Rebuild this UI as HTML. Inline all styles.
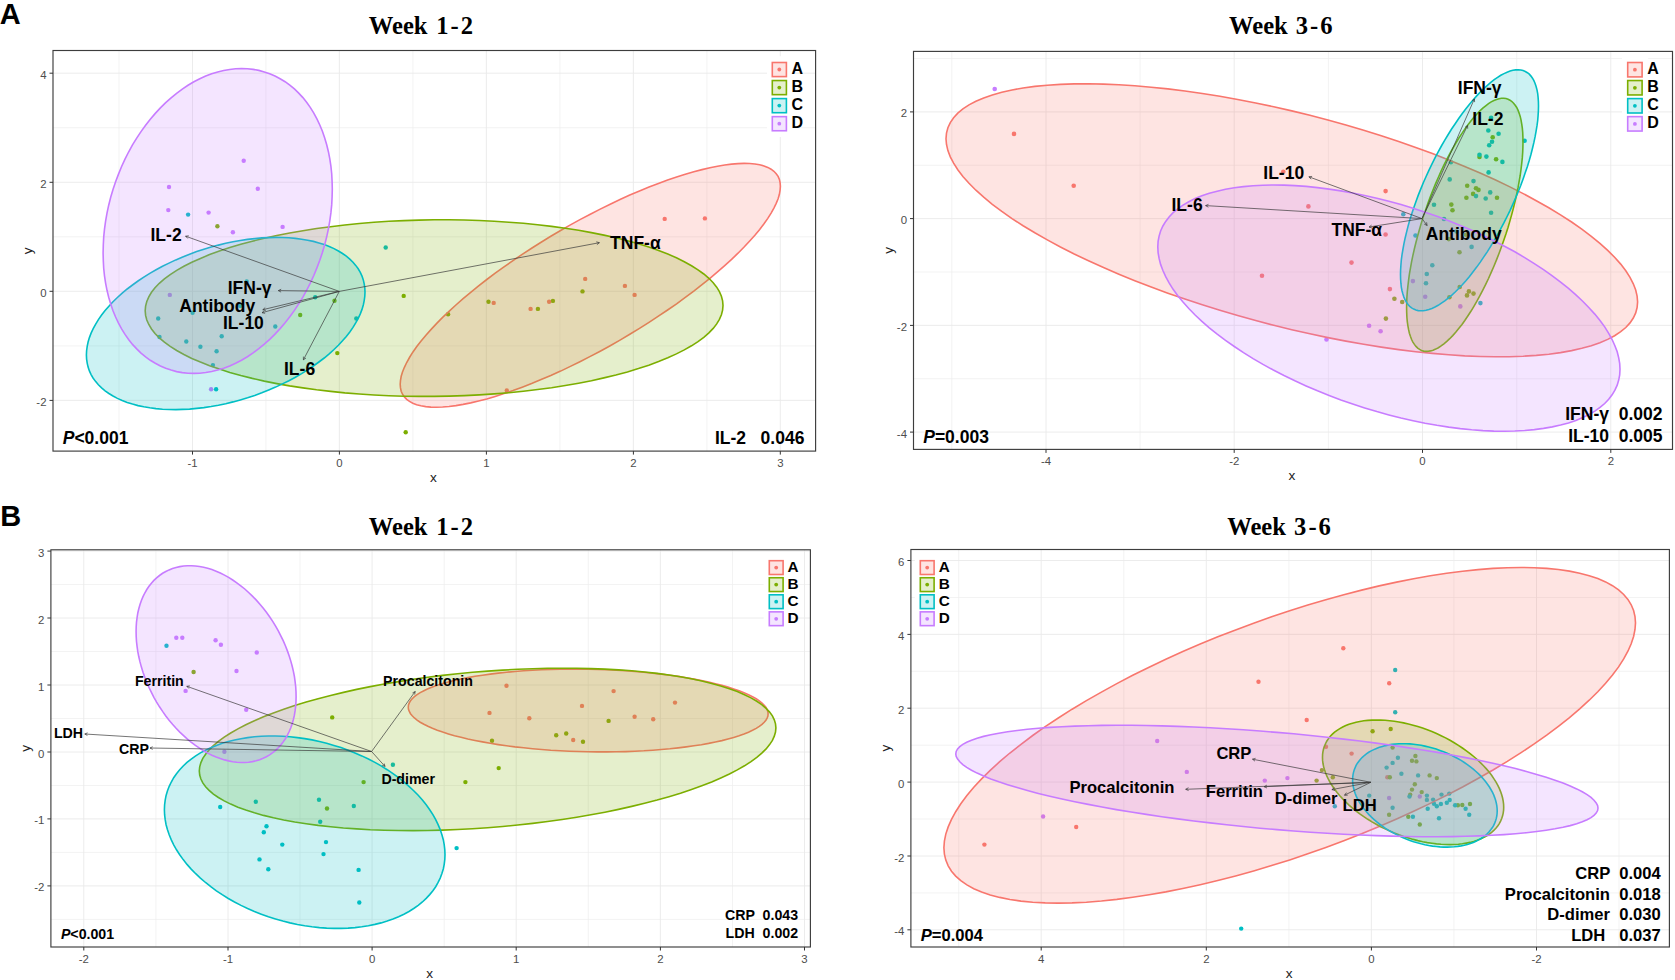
<!DOCTYPE html>
<html><head><meta charset="utf-8"><title>Figure</title>
<style>html,body{margin:0;padding:0;background:#fff}svg{display:block}</style></head>
<body>
<svg width="1675" height="980" viewBox="0 0 1675 980">
<rect width="1675" height="980" fill="#fff"/>
<text x="-0.3" y="24.0" font-family='"Liberation Sans", sans-serif' font-size="29" font-weight="bold" text-anchor="start" fill="#000" >A</text>
<text x="0.3" y="525.8" font-family='"Liberation Sans", sans-serif' font-size="29" font-weight="bold" text-anchor="start" fill="#000" >B</text>
<text y="34.0" font-family='"Liberation Serif", serif' font-size="24.6" font-weight="bold"><tspan x="368.8">Week</tspan> <tspan x="475.0" text-anchor="end" letter-spacing="2.0">1-2</tspan></text>
<text y="34.4" font-family='"Liberation Serif", serif' font-size="24.6" font-weight="bold"><tspan x="1229.0">Week</tspan> <tspan x="1334.6" text-anchor="end" letter-spacing="2.0">3-6</tspan></text>
<text y="534.8" font-family='"Liberation Serif", serif' font-size="24.6" font-weight="bold"><tspan x="368.8">Week</tspan> <tspan x="475.0" text-anchor="end" letter-spacing="2.0">1-2</tspan></text>
<text y="535.0" font-family='"Liberation Serif", serif' font-size="24.6" font-weight="bold"><tspan x="1227.2">Week</tspan> <tspan x="1332.9" text-anchor="end" letter-spacing="2.0">3-6</tspan></text>
<rect x="53.0" y="50.5" width="762.6" height="400.6" fill="#fff"/>
<line x1="119.0" y1="50.5" x2="119.0" y2="451.1" stroke="#eeeeee" stroke-width="0.7"/>
<line x1="265.9" y1="50.5" x2="265.9" y2="451.1" stroke="#eeeeee" stroke-width="0.7"/>
<line x1="412.9" y1="50.5" x2="412.9" y2="451.1" stroke="#eeeeee" stroke-width="0.7"/>
<line x1="559.9" y1="50.5" x2="559.9" y2="451.1" stroke="#eeeeee" stroke-width="0.7"/>
<line x1="706.9" y1="50.5" x2="706.9" y2="451.1" stroke="#eeeeee" stroke-width="0.7"/>
<line x1="53.0" y1="345.9" x2="815.6" y2="345.9" stroke="#eeeeee" stroke-width="0.7"/>
<line x1="53.0" y1="236.8" x2="815.6" y2="236.8" stroke="#eeeeee" stroke-width="0.7"/>
<line x1="53.0" y1="127.7" x2="815.6" y2="127.7" stroke="#eeeeee" stroke-width="0.7"/>
<line x1="192.5" y1="50.5" x2="192.5" y2="451.1" stroke="#eaeaea" stroke-width="0.9"/>
<line x1="339.4" y1="50.5" x2="339.4" y2="451.1" stroke="#eaeaea" stroke-width="0.9"/>
<line x1="486.4" y1="50.5" x2="486.4" y2="451.1" stroke="#eaeaea" stroke-width="0.9"/>
<line x1="633.4" y1="50.5" x2="633.4" y2="451.1" stroke="#eaeaea" stroke-width="0.9"/>
<line x1="780.3" y1="50.5" x2="780.3" y2="451.1" stroke="#eaeaea" stroke-width="0.9"/>
<line x1="53.0" y1="400.4" x2="815.6" y2="400.4" stroke="#eaeaea" stroke-width="0.9"/>
<line x1="53.0" y1="291.3" x2="815.6" y2="291.3" stroke="#eaeaea" stroke-width="0.9"/>
<line x1="53.0" y1="182.3" x2="815.6" y2="182.3" stroke="#eaeaea" stroke-width="0.9"/>
<line x1="53.0" y1="73.2" x2="815.6" y2="73.2" stroke="#eaeaea" stroke-width="0.9"/>
<circle cx="243.7" cy="160.7" r="2.2" fill="#C77CFF"/>
<circle cx="169.0" cy="187.0" r="2.2" fill="#C77CFF"/>
<circle cx="257.8" cy="188.8" r="2.2" fill="#C77CFF"/>
<circle cx="168.3" cy="210.1" r="2.2" fill="#C77CFF"/>
<circle cx="208.6" cy="212.6" r="2.2" fill="#C77CFF"/>
<circle cx="282.6" cy="226.9" r="2.2" fill="#C77CFF"/>
<circle cx="232.9" cy="232.2" r="2.2" fill="#C77CFF"/>
<circle cx="169.8" cy="294.9" r="2.2" fill="#C77CFF"/>
<circle cx="211.1" cy="389.2" r="2.2" fill="#C77CFF"/>
<circle cx="188.1" cy="214.6" r="2.2" fill="#00BFC4"/>
<circle cx="385.7" cy="247.5" r="2.2" fill="#00BFC4"/>
<circle cx="246.7" cy="281.4" r="2.2" fill="#00BFC4"/>
<circle cx="315.2" cy="297.2" r="2.2" fill="#00BFC4"/>
<circle cx="240.2" cy="305.9" r="2.2" fill="#00BFC4"/>
<circle cx="192.6" cy="312.7" r="2.2" fill="#00BFC4"/>
<circle cx="158.2" cy="318.5" r="2.2" fill="#00BFC4"/>
<circle cx="275.3" cy="326.5" r="2.2" fill="#00BFC4"/>
<circle cx="356.3" cy="318.5" r="2.2" fill="#00BFC4"/>
<circle cx="221.7" cy="336.3" r="2.2" fill="#00BFC4"/>
<circle cx="159.5" cy="337.0" r="2.2" fill="#00BFC4"/>
<circle cx="186.3" cy="341.5" r="2.2" fill="#00BFC4"/>
<circle cx="200.4" cy="346.8" r="2.2" fill="#00BFC4"/>
<circle cx="216.6" cy="351.3" r="2.2" fill="#00BFC4"/>
<circle cx="212.9" cy="365.1" r="2.2" fill="#00BFC4"/>
<circle cx="216.1" cy="389.2" r="2.2" fill="#00BFC4"/>
<circle cx="217.4" cy="226.2" r="2.2" fill="#7CAE00"/>
<circle cx="403.7" cy="295.9" r="2.2" fill="#7CAE00"/>
<circle cx="334.5" cy="300.7" r="2.2" fill="#7CAE00"/>
<circle cx="300.2" cy="315.0" r="2.2" fill="#7CAE00"/>
<circle cx="337.3" cy="353.1" r="2.2" fill="#7CAE00"/>
<circle cx="405.7" cy="432.3" r="2.2" fill="#7CAE00"/>
<circle cx="448.1" cy="314.2" r="2.2" fill="#7CAE00"/>
<circle cx="488.5" cy="301.7" r="2.2" fill="#7CAE00"/>
<circle cx="537.9" cy="308.9" r="2.2" fill="#7CAE00"/>
<circle cx="552.9" cy="300.9" r="2.2" fill="#7CAE00"/>
<circle cx="582.5" cy="291.4" r="2.2" fill="#7CAE00"/>
<circle cx="493.7" cy="302.9" r="2.2" fill="#F8766D"/>
<circle cx="530.6" cy="308.9" r="2.2" fill="#F8766D"/>
<circle cx="549.1" cy="301.7" r="2.2" fill="#F8766D"/>
<circle cx="585.2" cy="278.9" r="2.2" fill="#F8766D"/>
<circle cx="624.9" cy="285.9" r="2.2" fill="#F8766D"/>
<circle cx="634.6" cy="294.9" r="2.2" fill="#F8766D"/>
<circle cx="506.8" cy="390.4" r="2.2" fill="#F8766D"/>
<circle cx="664.7" cy="218.9" r="2.2" fill="#F8766D"/>
<circle cx="704.9" cy="218.4" r="2.2" fill="#F8766D"/>
<path d="M780.4 186.3 L780.1 182.7 L779.4 179.4 L778.1 176.4 L776.2 173.7 L773.9 171.3 L771.1 169.2 L767.8 167.4 L764.0 165.9 L759.7 164.8 L754.9 164.0 L749.7 163.5 L744.1 163.4 L738.0 163.6 L731.6 164.1 L724.7 165.0 L717.5 166.2 L709.9 167.7 L702.0 169.6 L693.8 171.7 L685.3 174.2 L676.6 177.0 L667.6 180.0 L658.4 183.4 L649.0 187.0 L639.5 191.0 L629.8 195.1 L620.0 199.5 L610.2 204.2 L600.2 209.1 L590.3 214.2 L580.4 219.4 L570.4 224.9 L560.6 230.5 L550.8 236.3 L541.1 242.2 L531.6 248.2 L522.2 254.4 L513.0 260.6 L504.0 266.8 L495.2 273.2 L486.8 279.5 L478.6 285.9 L470.7 292.3 L463.1 298.7 L455.9 305.0 L449.0 311.3 L442.6 317.4 L436.5 323.6 L430.9 329.6 L425.7 335.4 L420.9 341.2 L416.6 346.8 L412.8 352.2 L409.5 357.5 L406.7 362.5 L404.4 367.3 L402.5 371.9 L401.2 376.3 L400.5 380.4 L400.2 384.3 L400.5 387.9 L401.2 391.2 L402.5 394.2 L404.4 396.9 L406.7 399.3 L409.5 401.4 L412.8 403.2 L416.6 404.7 L420.9 405.8 L425.7 406.6 L430.9 407.1 L436.5 407.2 L442.6 407.0 L449.0 406.5 L455.9 405.6 L463.1 404.4 L470.7 402.9 L478.6 401.0 L486.8 398.9 L495.2 396.4 L504.0 393.6 L513.0 390.6 L522.2 387.2 L531.6 383.6 L541.1 379.6 L550.8 375.5 L560.6 371.1 L570.4 366.4 L580.4 361.5 L590.3 356.4 L600.2 351.2 L610.2 345.7 L620.0 340.1 L629.8 334.3 L639.5 328.4 L649.0 322.4 L658.4 316.2 L667.6 310.0 L676.6 303.8 L685.3 297.4 L693.8 291.1 L702.0 284.7 L709.9 278.3 L717.5 271.9 L724.7 265.6 L731.6 259.3 L738.0 253.2 L744.1 247.0 L749.7 241.0 L754.9 235.2 L759.7 229.4 L764.0 223.8 L767.8 218.4 L771.1 213.1 L773.9 208.1 L776.2 203.3 L778.1 198.7 L779.4 194.3 L780.1 190.2Z" fill="#F8766D" fill-opacity="0.2" stroke="#F8766D" stroke-width="1.6"/>
<path d="M723.0 305.5 L722.6 300.8 L721.4 296.2 L719.4 291.7 L716.7 287.2 L713.2 282.7 L708.9 278.3 L703.8 274.0 L698.0 269.8 L691.5 265.7 L684.3 261.7 L676.4 257.8 L667.8 254.1 L658.6 250.5 L648.8 247.1 L638.4 243.8 L627.4 240.7 L615.9 237.8 L603.9 235.1 L591.4 232.6 L578.6 230.3 L565.3 228.3 L551.6 226.4 L537.6 224.8 L523.4 223.3 L508.9 222.2 L494.2 221.2 L479.3 220.5 L464.3 220.0 L449.2 219.8 L434.1 219.8 L419.0 220.1 L403.9 220.6 L388.9 221.3 L374.0 222.3 L359.3 223.5 L344.8 225.0 L330.6 226.7 L316.6 228.5 L302.9 230.7 L289.7 233.0 L276.8 235.5 L264.3 238.3 L252.3 241.2 L240.8 244.3 L229.8 247.6 L219.4 251.0 L209.6 254.6 L200.4 258.4 L191.8 262.3 L183.9 266.3 L176.7 270.4 L170.2 274.6 L164.4 278.9 L159.3 283.3 L155.0 287.8 L151.5 292.3 L148.8 296.9 L146.8 301.5 L145.6 306.1 L145.2 310.7 L145.6 315.4 L146.8 320.0 L148.8 324.5 L151.5 329.0 L155.0 333.5 L159.3 337.9 L164.4 342.2 L170.2 346.4 L176.7 350.5 L183.9 354.5 L191.8 358.4 L200.4 362.1 L209.6 365.7 L219.4 369.1 L229.8 372.4 L240.8 375.5 L252.3 378.4 L264.3 381.1 L276.8 383.6 L289.6 385.9 L302.9 387.9 L316.6 389.8 L330.6 391.4 L344.8 392.9 L359.3 394.0 L374.0 395.0 L388.9 395.7 L403.9 396.2 L419.0 396.4 L434.1 396.4 L449.2 396.1 L464.3 395.6 L479.3 394.9 L494.2 393.9 L508.9 392.7 L523.4 391.2 L537.6 389.5 L551.6 387.7 L565.3 385.5 L578.6 383.2 L591.4 380.7 L603.9 377.9 L615.9 375.0 L627.4 371.9 L638.4 368.6 L648.8 365.2 L658.6 361.6 L667.8 357.8 L676.4 353.9 L684.3 349.9 L691.5 345.8 L698.0 341.6 L703.8 337.3 L708.9 332.9 L713.2 328.4 L716.7 323.9 L719.4 319.3 L721.4 314.7 L722.6 310.1Z" fill="#7CAE00" fill-opacity="0.2" stroke="#7CAE00" stroke-width="1.6"/>
<path d="M365.0 292.1 L364.8 287.9 L364.2 283.9 L363.3 279.9 L362.0 276.1 L360.3 272.4 L358.2 268.8 L355.7 265.4 L353.0 262.2 L349.8 259.1 L346.3 256.2 L342.5 253.5 L338.4 251.0 L334.0 248.6 L329.2 246.5 L324.2 244.6 L318.9 242.9 L313.4 241.4 L307.6 240.2 L301.6 239.2 L295.4 238.4 L288.9 237.8 L282.4 237.5 L275.6 237.4 L268.7 237.6 L261.8 237.9 L254.7 238.6 L247.5 239.4 L240.3 240.5 L233.0 241.8 L225.7 243.3 L218.4 245.1 L211.1 247.1 L203.9 249.2 L196.7 251.6 L189.6 254.2 L182.7 257.0 L175.8 259.9 L169.0 263.1 L162.5 266.3 L156.1 269.8 L149.8 273.4 L143.8 277.1 L138.0 281.0 L132.5 285.0 L127.2 289.0 L122.2 293.2 L117.4 297.5 L113.0 301.8 L108.9 306.2 L105.1 310.6 L101.6 315.1 L98.4 319.6 L95.7 324.1 L93.2 328.6 L91.1 333.1 L89.4 337.6 L88.1 342.0 L87.2 346.4 L86.6 350.7 L86.4 354.9 L86.6 359.1 L87.2 363.1 L88.1 367.1 L89.4 370.9 L91.1 374.6 L93.2 378.2 L95.7 381.6 L98.4 384.8 L101.6 387.9 L105.1 390.8 L108.9 393.5 L113.0 396.0 L117.4 398.4 L122.2 400.5 L127.2 402.4 L132.5 404.1 L138.0 405.6 L143.8 406.8 L149.8 407.8 L156.0 408.6 L162.5 409.2 L169.0 409.5 L175.8 409.6 L182.7 409.4 L189.6 409.1 L196.7 408.4 L203.9 407.6 L211.1 406.5 L218.4 405.2 L225.7 403.7 L233.0 401.9 L240.3 399.9 L247.5 397.8 L254.7 395.4 L261.8 392.8 L268.7 390.0 L275.6 387.1 L282.4 383.9 L288.9 380.7 L295.4 377.2 L301.6 373.6 L307.6 369.9 L313.4 366.0 L318.9 362.0 L324.2 358.0 L329.2 353.8 L334.0 349.5 L338.4 345.2 L342.5 340.8 L346.3 336.4 L349.8 331.9 L353.0 327.4 L355.7 322.9 L358.2 318.4 L360.3 313.9 L362.0 309.4 L363.3 305.0 L364.2 300.6 L364.8 296.3Z" fill="#00BFC4" fill-opacity="0.2" stroke="#00BFC4" stroke-width="1.6"/>
<path d="M332.3 189.1 L332.1 181.4 L331.7 173.7 L330.9 166.2 L329.8 158.9 L328.4 151.7 L326.7 144.7 L324.7 137.9 L322.4 131.3 L319.8 125.0 L316.9 118.9 L313.8 113.1 L310.4 107.6 L306.8 102.5 L302.9 97.6 L298.7 93.1 L294.4 88.9 L289.8 85.1 L285.1 81.7 L280.1 78.7 L275.0 76.0 L269.7 73.7 L264.3 71.9 L258.8 70.4 L253.1 69.4 L247.4 68.8 L241.5 68.6 L235.6 68.8 L229.7 69.5 L223.7 70.5 L217.7 72.0 L211.7 73.8 L205.7 76.1 L199.8 78.8 L193.9 81.8 L188.0 85.3 L182.3 89.1 L176.6 93.3 L171.1 97.8 L165.7 102.7 L160.4 107.9 L155.3 113.4 L150.3 119.2 L145.6 125.2 L141.0 131.6 L136.7 138.1 L132.5 144.9 L128.6 152.0 L125.0 159.2 L121.6 166.5 L118.5 174.1 L115.6 181.7 L113.0 189.5 L110.7 197.3 L108.7 205.2 L107.0 213.2 L105.6 221.2 L104.5 229.1 L103.7 237.1 L103.3 245.0 L103.1 252.9 L103.3 260.6 L103.7 268.3 L104.5 275.8 L105.6 283.1 L107.0 290.3 L108.7 297.3 L110.7 304.1 L113.0 310.7 L115.6 317.0 L118.5 323.1 L121.6 328.9 L125.0 334.4 L128.6 339.5 L132.5 344.4 L136.7 348.9 L141.0 353.1 L145.6 356.9 L150.3 360.3 L155.3 363.3 L160.4 366.0 L165.7 368.3 L171.1 370.1 L176.6 371.6 L182.3 372.6 L188.0 373.2 L193.9 373.4 L199.8 373.2 L205.7 372.5 L211.7 371.5 L217.7 370.0 L223.7 368.2 L229.7 365.9 L235.6 363.2 L241.5 360.2 L247.4 356.7 L253.1 352.9 L258.8 348.7 L264.3 344.2 L269.7 339.3 L275.0 334.1 L280.1 328.6 L285.1 322.8 L289.8 316.8 L294.4 310.4 L298.7 303.9 L302.9 297.1 L306.8 290.0 L310.4 282.8 L313.8 275.5 L316.9 267.9 L319.8 260.3 L322.4 252.5 L324.7 244.7 L326.7 236.8 L328.4 228.8 L329.8 220.8 L330.9 212.9 L331.7 204.9 L332.1 197.0Z" fill="#C77CFF" fill-opacity="0.2" stroke="#C77CFF" stroke-width="1.6"/>
<path d="M339.3 291.4 L185.6 236.2 M188.8 235.8 L185.6 236.2 L187.8 238.5" fill="none" stroke="#3a3a3a" stroke-width="0.7"/>
<path d="M339.3 291.4 L599.4 242.7 M596.9 244.7 L599.4 242.7 L596.3 241.8" fill="none" stroke="#3a3a3a" stroke-width="0.7"/>
<path d="M339.3 291.4 L278.3 290.6 M281.2 289.2 L278.3 290.6 L281.1 292.1" fill="none" stroke="#3a3a3a" stroke-width="0.7"/>
<path d="M339.3 291.4 L262.8 309.7 M265.2 307.6 L262.8 309.7 L265.9 310.4" fill="none" stroke="#3a3a3a" stroke-width="0.7"/>
<path d="M339.3 291.4 L262.0 312.7 M264.4 310.5 L262.0 312.7 L265.1 313.3" fill="none" stroke="#3a3a3a" stroke-width="0.7"/>
<path d="M339.3 291.4 L303.4 359.8 M303.4 356.6 L303.4 359.8 L306.0 358.0" fill="none" stroke="#3a3a3a" stroke-width="0.7"/>
<text x="150.5" y="240.7" font-family='"Liberation Sans", sans-serif' font-size="17.5" font-weight="bold" text-anchor="start" fill="#000" >IL-2</text>
<text x="610.1" y="248.6" font-family='"Liberation Sans", sans-serif' font-size="17.5" font-weight="bold" text-anchor="start" fill="#000" >TNF-α</text>
<text x="227.7" y="293.9" font-family='"Liberation Sans", sans-serif' font-size="17.5" font-weight="bold" text-anchor="start" fill="#000" >IFN-γ</text>
<text x="179.3" y="312.0" font-family='"Liberation Sans", sans-serif' font-size="17.5" font-weight="bold" text-anchor="start" fill="#000" >Antibody</text>
<text x="223.0" y="329.0" font-family='"Liberation Sans", sans-serif' font-size="17.5" font-weight="bold" text-anchor="start" fill="#000" >IL-10</text>
<text x="284.0" y="374.9" font-family='"Liberation Sans", sans-serif' font-size="17.5" font-weight="bold" text-anchor="start" fill="#000" >IL-6</text>
<text x="62.7" y="443.6" font-family='"Liberation Sans", sans-serif' font-size="17.5" font-weight="bold"><tspan font-style="italic">P</tspan>&lt;0.001</text>
<text x="804.4" y="443.6" font-family='"Liberation Sans", sans-serif' font-size="17.5" font-weight="bold" text-anchor="end" fill="#000" xml:space="preserve">IL-2   0.046</text>
<rect x="767.0" y="56.3" width="25.3" height="80.7" fill="#fff"/>
<rect x="772.30" y="62.50" width="14.1" height="14.1" fill="#F8766D" fill-opacity="0.2" stroke="#F8766D" stroke-width="1.6"/>
<circle cx="779.3" cy="69.5" r="1.9" fill="#F8766D"/>
<text x="791.6" y="74.0" font-family='"Liberation Sans", sans-serif' font-size="16" font-weight="bold" text-anchor="start" fill="#000" >A</text>
<rect x="772.30" y="80.55" width="14.1" height="14.1" fill="#7CAE00" fill-opacity="0.2" stroke="#7CAE00" stroke-width="1.6"/>
<circle cx="779.3" cy="87.6" r="1.9" fill="#7CAE00"/>
<text x="791.6" y="92.1" font-family='"Liberation Sans", sans-serif' font-size="16" font-weight="bold" text-anchor="start" fill="#000" >B</text>
<rect x="772.30" y="98.60" width="14.1" height="14.1" fill="#00BFC4" fill-opacity="0.2" stroke="#00BFC4" stroke-width="1.6"/>
<circle cx="779.3" cy="105.6" r="1.9" fill="#00BFC4"/>
<text x="791.6" y="110.1" font-family='"Liberation Sans", sans-serif' font-size="16" font-weight="bold" text-anchor="start" fill="#000" >C</text>
<rect x="772.30" y="116.65" width="14.1" height="14.1" fill="#C77CFF" fill-opacity="0.2" stroke="#C77CFF" stroke-width="1.6"/>
<circle cx="779.3" cy="123.7" r="1.9" fill="#C77CFF"/>
<text x="791.6" y="128.2" font-family='"Liberation Sans", sans-serif' font-size="16" font-weight="bold" text-anchor="start" fill="#000" >D</text>
<rect x="53.0" y="50.5" width="762.6" height="400.6" fill="none" stroke="#3d3d3d" stroke-width="1.15"/>
<line x1="192.5" y1="451.1" x2="192.5" y2="454.6" stroke="#333" stroke-width="1"/>
<text x="192.5" y="467.0" font-family='"Liberation Sans", sans-serif' font-size="11.4" font-weight="normal" text-anchor="middle" fill="#4d4d4d" >-1</text>
<line x1="339.4" y1="451.1" x2="339.4" y2="454.6" stroke="#333" stroke-width="1"/>
<text x="339.4" y="467.0" font-family='"Liberation Sans", sans-serif' font-size="11.4" font-weight="normal" text-anchor="middle" fill="#4d4d4d" >0</text>
<line x1="486.4" y1="451.1" x2="486.4" y2="454.6" stroke="#333" stroke-width="1"/>
<text x="486.4" y="467.0" font-family='"Liberation Sans", sans-serif' font-size="11.4" font-weight="normal" text-anchor="middle" fill="#4d4d4d" >1</text>
<line x1="633.4" y1="451.1" x2="633.4" y2="454.6" stroke="#333" stroke-width="1"/>
<text x="633.4" y="467.0" font-family='"Liberation Sans", sans-serif' font-size="11.4" font-weight="normal" text-anchor="middle" fill="#4d4d4d" >2</text>
<line x1="780.3" y1="451.1" x2="780.3" y2="454.6" stroke="#333" stroke-width="1"/>
<text x="780.3" y="467.0" font-family='"Liberation Sans", sans-serif' font-size="11.4" font-weight="normal" text-anchor="middle" fill="#4d4d4d" >3</text>
<line x1="49.5" y1="400.4" x2="53.0" y2="400.4" stroke="#333" stroke-width="1"/>
<text x="46.5" y="405.9" font-family='"Liberation Sans", sans-serif' font-size="11.4" font-weight="normal" text-anchor="end" fill="#4d4d4d" >-2</text>
<line x1="49.5" y1="291.3" x2="53.0" y2="291.3" stroke="#333" stroke-width="1"/>
<text x="46.5" y="296.8" font-family='"Liberation Sans", sans-serif' font-size="11.4" font-weight="normal" text-anchor="end" fill="#4d4d4d" >0</text>
<line x1="49.5" y1="182.3" x2="53.0" y2="182.3" stroke="#333" stroke-width="1"/>
<text x="46.5" y="187.8" font-family='"Liberation Sans", sans-serif' font-size="11.4" font-weight="normal" text-anchor="end" fill="#4d4d4d" >2</text>
<line x1="49.5" y1="73.2" x2="53.0" y2="73.2" stroke="#333" stroke-width="1"/>
<text x="46.5" y="78.7" font-family='"Liberation Sans", sans-serif' font-size="11.4" font-weight="normal" text-anchor="end" fill="#4d4d4d" >4</text>
<text x="433.3" y="481.6" font-family='"Liberation Sans", sans-serif' font-size="13.6" font-weight="normal" text-anchor="middle" fill="#222" >x</text>
<text transform="translate(32.3 250.8) rotate(-90)" font-family='"Liberation Sans", sans-serif' font-size="13.6" text-anchor="middle" fill="#222">y</text>
<rect x="913.5" y="51.4" width="759.0" height="398.0" fill="#fff"/>
<line x1="951.8" y1="51.4" x2="951.8" y2="449.4" stroke="#eeeeee" stroke-width="0.7"/>
<line x1="1140.1" y1="51.4" x2="1140.1" y2="449.4" stroke="#eeeeee" stroke-width="0.7"/>
<line x1="1328.4" y1="51.4" x2="1328.4" y2="449.4" stroke="#eeeeee" stroke-width="0.7"/>
<line x1="1516.7" y1="51.4" x2="1516.7" y2="449.4" stroke="#eeeeee" stroke-width="0.7"/>
<line x1="913.5" y1="378.7" x2="1672.5" y2="378.7" stroke="#eeeeee" stroke-width="0.7"/>
<line x1="913.5" y1="272.0" x2="1672.5" y2="272.0" stroke="#eeeeee" stroke-width="0.7"/>
<line x1="913.5" y1="165.3" x2="1672.5" y2="165.3" stroke="#eeeeee" stroke-width="0.7"/>
<line x1="913.5" y1="58.5" x2="1672.5" y2="58.5" stroke="#eeeeee" stroke-width="0.7"/>
<line x1="1046.0" y1="51.4" x2="1046.0" y2="449.4" stroke="#eaeaea" stroke-width="0.9"/>
<line x1="1234.2" y1="51.4" x2="1234.2" y2="449.4" stroke="#eaeaea" stroke-width="0.9"/>
<line x1="1422.5" y1="51.4" x2="1422.5" y2="449.4" stroke="#eaeaea" stroke-width="0.9"/>
<line x1="1610.8" y1="51.4" x2="1610.8" y2="449.4" stroke="#eaeaea" stroke-width="0.9"/>
<line x1="913.5" y1="432.1" x2="1672.5" y2="432.1" stroke="#eaeaea" stroke-width="0.9"/>
<line x1="913.5" y1="325.4" x2="1672.5" y2="325.4" stroke="#eaeaea" stroke-width="0.9"/>
<line x1="913.5" y1="218.6" x2="1672.5" y2="218.6" stroke="#eaeaea" stroke-width="0.9"/>
<line x1="913.5" y1="111.9" x2="1672.5" y2="111.9" stroke="#eaeaea" stroke-width="0.9"/>
<circle cx="1014.0" cy="133.9" r="2.3" fill="#F8766D"/>
<circle cx="1073.7" cy="185.8" r="2.3" fill="#F8766D"/>
<circle cx="1283.3" cy="171.8" r="2.3" fill="#F8766D"/>
<circle cx="1385.6" cy="191.1" r="2.3" fill="#F8766D"/>
<circle cx="1308.4" cy="206.4" r="2.3" fill="#F8766D"/>
<circle cx="1385.6" cy="234.5" r="2.3" fill="#F8766D"/>
<circle cx="1262.0" cy="275.8" r="2.3" fill="#F8766D"/>
<circle cx="1351.5" cy="262.6" r="2.3" fill="#F8766D"/>
<circle cx="1389.9" cy="289.1" r="2.3" fill="#F8766D"/>
<circle cx="1492.7" cy="137.2" r="2.3" fill="#7CAE00"/>
<circle cx="1479.5" cy="156.9" r="2.3" fill="#7CAE00"/>
<circle cx="1496.1" cy="159.2" r="2.3" fill="#7CAE00"/>
<circle cx="1467.2" cy="185.7" r="2.3" fill="#7CAE00"/>
<circle cx="1476.0" cy="188.2" r="2.3" fill="#7CAE00"/>
<circle cx="1478.5" cy="189.9" r="2.3" fill="#7CAE00"/>
<circle cx="1473.1" cy="193.9" r="2.3" fill="#7CAE00"/>
<circle cx="1466.4" cy="197.7" r="2.3" fill="#7CAE00"/>
<circle cx="1497.0" cy="197.7" r="2.3" fill="#7CAE00"/>
<circle cx="1451.3" cy="204.6" r="2.3" fill="#7CAE00"/>
<circle cx="1452.5" cy="210.2" r="2.3" fill="#7CAE00"/>
<circle cx="1448.8" cy="239.1" r="2.3" fill="#7CAE00"/>
<circle cx="1459.5" cy="252.3" r="2.3" fill="#7CAE00"/>
<circle cx="1466.0" cy="234.7" r="2.3" fill="#7CAE00"/>
<circle cx="1394.4" cy="298.7" r="2.3" fill="#7CAE00"/>
<circle cx="1402.2" cy="302.0" r="2.3" fill="#7CAE00"/>
<circle cx="1459.7" cy="287.0" r="2.3" fill="#7CAE00"/>
<circle cx="1449.4" cy="297.3" r="2.3" fill="#7CAE00"/>
<circle cx="1468.9" cy="291.4" r="2.3" fill="#7CAE00"/>
<circle cx="1473.5" cy="293.6" r="2.3" fill="#7CAE00"/>
<circle cx="1467.0" cy="295.4" r="2.3" fill="#7CAE00"/>
<circle cx="1385.9" cy="318.6" r="2.3" fill="#7CAE00"/>
<circle cx="1491.1" cy="117.7" r="2.3" fill="#00BFC4"/>
<circle cx="1488.3" cy="130.5" r="2.3" fill="#00BFC4"/>
<circle cx="1498.6" cy="133.8" r="2.3" fill="#00BFC4"/>
<circle cx="1492.0" cy="141.8" r="2.3" fill="#00BFC4"/>
<circle cx="1489.2" cy="145.3" r="2.3" fill="#00BFC4"/>
<circle cx="1524.6" cy="140.7" r="2.3" fill="#00BFC4"/>
<circle cx="1479.5" cy="154.8" r="2.3" fill="#00BFC4"/>
<circle cx="1486.4" cy="156.6" r="2.3" fill="#00BFC4"/>
<circle cx="1502.4" cy="161.9" r="2.3" fill="#00BFC4"/>
<circle cx="1488.6" cy="172.4" r="2.3" fill="#00BFC4"/>
<circle cx="1449.7" cy="179.4" r="2.3" fill="#00BFC4"/>
<circle cx="1473.5" cy="181.1" r="2.3" fill="#00BFC4"/>
<circle cx="1450.9" cy="162.3" r="2.3" fill="#00BFC4"/>
<circle cx="1490.2" cy="192.4" r="2.3" fill="#00BFC4"/>
<circle cx="1476.0" cy="196.1" r="2.3" fill="#00BFC4"/>
<circle cx="1485.7" cy="198.5" r="2.3" fill="#00BFC4"/>
<circle cx="1434.0" cy="204.8" r="2.3" fill="#00BFC4"/>
<circle cx="1491.1" cy="212.7" r="2.3" fill="#00BFC4"/>
<circle cx="1403.3" cy="214.3" r="2.3" fill="#00BFC4"/>
<circle cx="1444.0" cy="219.0" r="2.3" fill="#00BFC4"/>
<circle cx="1415.5" cy="235.5" r="2.3" fill="#00BFC4"/>
<circle cx="1456.6" cy="231.5" r="2.3" fill="#00BFC4"/>
<circle cx="1471.6" cy="246.9" r="2.3" fill="#00BFC4"/>
<circle cx="1432.3" cy="265.2" r="2.3" fill="#00BFC4"/>
<circle cx="1426.8" cy="274.0" r="2.3" fill="#00BFC4"/>
<circle cx="1426.0" cy="283.2" r="2.3" fill="#00BFC4"/>
<circle cx="1480.4" cy="303.1" r="2.3" fill="#00BFC4"/>
<circle cx="994.7" cy="89.0" r="2.3" fill="#C77CFF"/>
<circle cx="1412.9" cy="281.1" r="2.3" fill="#C77CFF"/>
<circle cx="1425.2" cy="296.8" r="2.3" fill="#C77CFF"/>
<circle cx="1460.3" cy="306.4" r="2.3" fill="#C77CFF"/>
<circle cx="1380.6" cy="331.2" r="2.3" fill="#C77CFF"/>
<circle cx="1369.1" cy="325.7" r="2.3" fill="#C77CFF"/>
<circle cx="1326.5" cy="339.5" r="2.3" fill="#C77CFF"/>
<path d="M1637.6 301.9 L1637.1 296.1 L1635.7 290.0 L1633.3 283.8 L1630.0 277.4 L1625.8 270.8 L1620.7 264.1 L1614.6 257.3 L1607.7 250.4 L1599.9 243.4 L1591.3 236.3 L1581.8 229.2 L1571.6 222.0 L1560.5 214.9 L1548.8 207.8 L1536.3 200.7 L1523.2 193.6 L1509.4 186.6 L1495.1 179.8 L1480.1 173.0 L1464.7 166.4 L1448.8 159.9 L1432.4 153.6 L1415.7 147.4 L1398.7 141.5 L1381.3 135.8 L1363.7 130.3 L1345.9 125.0 L1327.9 120.0 L1309.9 115.3 L1291.8 110.9 L1273.7 106.8 L1255.7 103.0 L1237.7 99.5 L1219.9 96.3 L1202.3 93.5 L1184.9 91.0 L1167.9 88.9 L1151.2 87.2 L1134.8 85.8 L1118.9 84.7 L1103.5 84.1 L1088.5 83.8 L1074.2 83.9 L1060.4 84.4 L1047.3 85.2 L1034.8 86.4 L1023.1 88.0 L1012.0 90.0 L1001.8 92.3 L992.3 94.9 L983.7 97.9 L975.9 101.2 L969.0 104.9 L962.9 108.9 L957.8 113.1 L953.6 117.7 L950.3 122.6 L947.9 127.7 L946.5 133.1 L946.0 138.7 L946.5 144.5 L947.9 150.6 L950.3 156.8 L953.6 163.2 L957.8 169.8 L962.9 176.5 L969.0 183.3 L975.9 190.2 L983.7 197.2 L992.3 204.3 L1001.8 211.4 L1012.0 218.6 L1023.1 225.7 L1034.8 232.8 L1047.3 239.9 L1060.4 247.0 L1074.2 254.0 L1088.5 260.8 L1103.5 267.6 L1118.9 274.2 L1134.8 280.7 L1151.2 287.0 L1167.9 293.2 L1184.9 299.1 L1202.3 304.8 L1219.9 310.3 L1237.7 315.6 L1255.7 320.6 L1273.7 325.3 L1291.8 329.7 L1309.9 333.8 L1327.9 337.6 L1345.9 341.1 L1363.7 344.3 L1381.3 347.1 L1398.7 349.6 L1415.7 351.7 L1432.4 353.4 L1448.8 354.8 L1464.7 355.9 L1480.1 356.5 L1495.1 356.8 L1509.4 356.7 L1523.2 356.2 L1536.3 355.4 L1548.8 354.2 L1560.5 352.6 L1571.6 350.6 L1581.8 348.3 L1591.3 345.7 L1599.9 342.7 L1607.7 339.4 L1614.6 335.7 L1620.7 331.7 L1625.8 327.5 L1630.0 322.9 L1633.3 318.0 L1635.7 312.9 L1637.1 307.5Z" fill="#F8766D" fill-opacity="0.2" stroke="#F8766D" stroke-width="1.6"/>
<path d="M1523.0 141.9 L1522.9 137.0 L1522.7 132.3 L1522.3 127.9 L1521.7 123.8 L1521.0 119.9 L1520.2 116.4 L1519.1 113.1 L1518.0 110.1 L1516.7 107.5 L1515.2 105.2 L1513.6 103.2 L1511.9 101.5 L1510.0 100.2 L1508.1 99.2 L1506.0 98.5 L1503.7 98.2 L1501.4 98.3 L1499.0 98.7 L1496.5 99.4 L1493.9 100.5 L1491.2 101.9 L1488.5 103.7 L1485.7 105.8 L1482.8 108.2 L1479.9 110.9 L1476.9 114.0 L1473.9 117.3 L1470.9 121.0 L1467.8 124.9 L1464.8 129.1 L1461.8 133.6 L1458.7 138.3 L1455.7 143.3 L1452.7 148.5 L1449.7 153.9 L1446.8 159.4 L1443.9 165.2 L1441.1 171.1 L1438.4 177.2 L1435.7 183.4 L1433.1 189.7 L1430.6 196.1 L1428.2 202.6 L1425.9 209.2 L1423.6 215.8 L1421.5 222.4 L1419.6 229.0 L1417.7 235.7 L1416.0 242.2 L1414.4 248.8 L1412.9 255.3 L1411.6 261.6 L1410.5 267.9 L1409.4 274.1 L1408.6 280.1 L1407.9 286.0 L1407.3 291.7 L1406.9 297.3 L1406.7 302.6 L1406.6 307.7 L1406.7 312.6 L1406.9 317.3 L1407.3 321.7 L1407.9 325.8 L1408.6 329.7 L1409.4 333.2 L1410.5 336.5 L1411.6 339.5 L1412.9 342.1 L1414.4 344.4 L1416.0 346.4 L1417.7 348.1 L1419.6 349.4 L1421.5 350.4 L1423.6 351.1 L1425.9 351.4 L1428.2 351.3 L1430.6 350.9 L1433.1 350.2 L1435.7 349.1 L1438.4 347.7 L1441.1 345.9 L1443.9 343.8 L1446.8 341.4 L1449.7 338.7 L1452.7 335.6 L1455.7 332.3 L1458.7 328.6 L1461.8 324.7 L1464.8 320.5 L1467.8 316.0 L1470.9 311.3 L1473.9 306.3 L1476.9 301.1 L1479.9 295.7 L1482.8 290.2 L1485.7 284.4 L1488.5 278.5 L1491.2 272.4 L1493.9 266.2 L1496.5 259.9 L1499.0 253.5 L1501.4 247.0 L1503.7 240.4 L1506.0 233.8 L1508.1 227.2 L1510.0 220.6 L1511.9 213.9 L1513.6 207.4 L1515.2 200.8 L1516.7 194.3 L1518.0 188.0 L1519.1 181.7 L1520.2 175.5 L1521.0 169.5 L1521.7 163.6 L1522.3 157.9 L1522.7 152.3 L1522.9 147.0Z" fill="#7CAE00" fill-opacity="0.2" stroke="#7CAE00" stroke-width="1.6"/>
<path d="M1538.5 106.0 L1538.4 101.6 L1538.1 97.4 L1537.7 93.5 L1537.0 89.9 L1536.1 86.6 L1535.1 83.5 L1533.9 80.7 L1532.5 78.2 L1531.0 76.1 L1529.3 74.2 L1527.4 72.7 L1525.3 71.5 L1523.1 70.6 L1520.8 70.0 L1518.3 69.8 L1515.7 69.9 L1512.9 70.3 L1510.1 71.1 L1507.1 72.2 L1504.0 73.6 L1500.8 75.3 L1497.6 77.4 L1494.2 79.7 L1490.8 82.4 L1487.4 85.3 L1483.8 88.6 L1480.3 92.1 L1476.7 95.9 L1473.1 99.9 L1469.5 104.2 L1465.9 108.8 L1462.3 113.5 L1458.7 118.5 L1455.2 123.7 L1451.6 129.0 L1448.2 134.5 L1444.8 140.2 L1441.4 146.0 L1438.2 151.9 L1435.0 157.9 L1431.9 164.1 L1428.9 170.3 L1426.1 176.5 L1423.3 182.8 L1420.7 189.1 L1418.2 195.4 L1415.9 201.7 L1413.7 208.0 L1411.6 214.2 L1409.7 220.3 L1408.0 226.4 L1406.5 232.4 L1405.1 238.2 L1403.9 243.9 L1402.9 249.5 L1402.0 254.9 L1401.3 260.1 L1400.9 265.2 L1400.6 270.0 L1400.5 274.6 L1400.6 279.0 L1400.9 283.2 L1401.3 287.1 L1402.0 290.7 L1402.9 294.0 L1403.9 297.1 L1405.1 299.9 L1406.5 302.4 L1408.0 304.5 L1409.7 306.4 L1411.6 307.9 L1413.7 309.1 L1415.9 310.0 L1418.2 310.6 L1420.7 310.8 L1423.3 310.7 L1426.1 310.3 L1428.9 309.5 L1431.9 308.4 L1435.0 307.0 L1438.2 305.3 L1441.4 303.2 L1444.8 300.9 L1448.2 298.2 L1451.6 295.3 L1455.2 292.0 L1458.7 288.5 L1462.3 284.7 L1465.9 280.7 L1469.5 276.4 L1473.1 271.8 L1476.7 267.1 L1480.3 262.1 L1483.8 256.9 L1487.4 251.6 L1490.8 246.1 L1494.2 240.4 L1497.6 234.6 L1500.8 228.7 L1504.0 222.7 L1507.1 216.5 L1510.1 210.3 L1512.9 204.1 L1515.7 197.8 L1518.3 191.5 L1520.8 185.2 L1523.1 178.9 L1525.3 172.6 L1527.4 166.4 L1529.3 160.3 L1531.0 154.2 L1532.5 148.2 L1533.9 142.4 L1535.1 136.7 L1536.1 131.1 L1537.0 125.7 L1537.7 120.5 L1538.1 115.4 L1538.4 110.6Z" fill="#00BFC4" fill-opacity="0.2" stroke="#00BFC4" stroke-width="1.6"/>
<path d="M1620.0 369.3 L1619.7 363.6 L1618.7 357.8 L1617.2 351.8 L1614.9 345.7 L1612.1 339.5 L1608.7 333.3 L1604.7 326.9 L1600.0 320.5 L1594.8 314.1 L1589.0 307.7 L1582.7 301.2 L1575.9 294.8 L1568.5 288.4 L1560.6 282.1 L1552.3 275.8 L1543.5 269.7 L1534.3 263.6 L1524.7 257.6 L1514.8 251.8 L1504.5 246.2 L1493.8 240.7 L1482.9 235.4 L1471.7 230.3 L1460.3 225.4 L1448.7 220.8 L1436.9 216.3 L1425.1 212.2 L1413.1 208.3 L1401.0 204.6 L1388.9 201.3 L1376.8 198.2 L1364.7 195.5 L1352.7 193.0 L1340.9 190.9 L1329.1 189.1 L1317.5 187.6 L1306.1 186.4 L1294.9 185.6 L1284.0 185.1 L1273.4 185.0 L1263.0 185.2 L1253.1 185.7 L1243.5 186.6 L1234.3 187.8 L1225.5 189.3 L1217.2 191.2 L1209.3 193.3 L1201.9 195.8 L1195.1 198.6 L1188.8 201.7 L1183.0 205.1 L1177.8 208.8 L1173.1 212.7 L1169.1 216.9 L1165.7 221.4 L1162.9 226.0 L1160.6 231.0 L1159.1 236.1 L1158.1 241.4 L1157.8 246.9 L1158.1 252.6 L1159.1 258.4 L1160.6 264.4 L1162.9 270.5 L1165.7 276.7 L1169.1 282.9 L1173.1 289.3 L1177.8 295.7 L1183.0 302.1 L1188.8 308.5 L1195.1 315.0 L1201.9 321.4 L1209.3 327.8 L1217.2 334.1 L1225.5 340.4 L1234.3 346.5 L1243.5 352.6 L1253.1 358.6 L1263.0 364.4 L1273.3 370.0 L1284.0 375.5 L1294.9 380.8 L1306.1 385.9 L1317.5 390.8 L1329.1 395.4 L1340.9 399.9 L1352.7 404.0 L1364.7 407.9 L1376.8 411.6 L1388.9 414.9 L1401.0 418.0 L1413.1 420.7 L1425.1 423.2 L1436.9 425.3 L1448.7 427.1 L1460.3 428.6 L1471.7 429.8 L1482.9 430.6 L1493.8 431.1 L1504.5 431.2 L1514.8 431.0 L1524.7 430.5 L1534.3 429.6 L1543.5 428.4 L1552.3 426.9 L1560.6 425.0 L1568.5 422.9 L1575.9 420.4 L1582.7 417.6 L1589.0 414.5 L1594.8 411.1 L1600.0 407.4 L1604.7 403.5 L1608.7 399.3 L1612.1 394.8 L1614.9 390.2 L1617.2 385.2 L1618.7 380.1 L1619.7 374.8Z" fill="#C77CFF" fill-opacity="0.2" stroke="#C77CFF" stroke-width="1.6"/>
<path d="M1422.0 218.6 L1474.4 98.9 M1474.6 102.1 L1474.4 98.9 L1471.9 100.9" fill="none" stroke="#3a3a3a" stroke-width="0.7"/>
<path d="M1422.0 218.6 L1467.6 125.5 M1467.7 128.7 L1467.6 125.5 L1465.0 127.4" fill="none" stroke="#3a3a3a" stroke-width="0.7"/>
<path d="M1422.0 218.6 L1308.9 176.8 M1312.1 176.4 L1308.9 176.8 L1311.1 179.2" fill="none" stroke="#3a3a3a" stroke-width="0.7"/>
<path d="M1422.0 218.6 L1205.6 205.6 M1208.5 204.3 L1205.6 205.6 L1208.4 207.2" fill="none" stroke="#3a3a3a" stroke-width="0.7"/>
<path d="M1422.0 218.6 L1369.0 227.0 M1371.6 225.1 L1369.0 227.0 L1372.0 228.0" fill="none" stroke="#3a3a3a" stroke-width="0.7"/>
<path d="M1422.0 218.6 L1427.1 225.5 M1424.2 224.1 L1427.1 225.5 L1426.6 222.3" fill="none" stroke="#3a3a3a" stroke-width="0.7"/>
<text x="1457.8" y="93.9" font-family='"Liberation Sans", sans-serif' font-size="17.5" font-weight="bold" text-anchor="start" fill="#000" >IFN-γ</text>
<text x="1472.3" y="125.0" font-family='"Liberation Sans", sans-serif' font-size="17.5" font-weight="bold" text-anchor="start" fill="#000" >IL-2</text>
<text x="1263.3" y="178.8" font-family='"Liberation Sans", sans-serif' font-size="17.5" font-weight="bold" text-anchor="start" fill="#000" >IL-10</text>
<text x="1171.5" y="210.6" font-family='"Liberation Sans", sans-serif' font-size="17.5" font-weight="bold" text-anchor="start" fill="#000" >IL-6</text>
<text x="1331.5" y="236.2" font-family='"Liberation Sans", sans-serif' font-size="17.5" font-weight="bold" text-anchor="start" fill="#000" >TNF-α</text>
<text x="1425.8" y="240.3" font-family='"Liberation Sans", sans-serif' font-size="17.5" font-weight="bold" text-anchor="start" fill="#000" >Antibody</text>
<text x="923.2" y="443.1" font-family='"Liberation Sans", sans-serif' font-size="17.5" font-weight="bold"><tspan font-style="italic">P</tspan>=0.003</text>
<text x="1662.5" y="419.8" font-family='"Liberation Sans", sans-serif' font-size="17.5" font-weight="bold" text-anchor="end" fill="#000" xml:space="preserve">IFN-γ  0.002</text>
<text x="1662.5" y="441.8" font-family='"Liberation Sans", sans-serif' font-size="17.5" font-weight="bold" text-anchor="end" fill="#000" xml:space="preserve">IL-10  0.005</text>
<rect x="1622.0" y="56.3" width="26.2" height="80.7" fill="#fff"/>
<rect x="1627.70" y="62.50" width="14.4" height="14.4" fill="#F8766D" fill-opacity="0.2" stroke="#F8766D" stroke-width="1.6"/>
<circle cx="1634.9" cy="69.7" r="1.9" fill="#F8766D"/>
<text x="1647.3" y="74.2" font-family='"Liberation Sans", sans-serif' font-size="16" font-weight="bold" text-anchor="start" fill="#000" >A</text>
<rect x="1627.70" y="80.55" width="14.4" height="14.4" fill="#7CAE00" fill-opacity="0.2" stroke="#7CAE00" stroke-width="1.6"/>
<circle cx="1634.9" cy="87.8" r="1.9" fill="#7CAE00"/>
<text x="1647.3" y="92.2" font-family='"Liberation Sans", sans-serif' font-size="16" font-weight="bold" text-anchor="start" fill="#000" >B</text>
<rect x="1627.70" y="98.60" width="14.4" height="14.4" fill="#00BFC4" fill-opacity="0.2" stroke="#00BFC4" stroke-width="1.6"/>
<circle cx="1634.9" cy="105.8" r="1.9" fill="#00BFC4"/>
<text x="1647.3" y="110.3" font-family='"Liberation Sans", sans-serif' font-size="16" font-weight="bold" text-anchor="start" fill="#000" >C</text>
<rect x="1627.70" y="116.65" width="14.4" height="14.4" fill="#C77CFF" fill-opacity="0.2" stroke="#C77CFF" stroke-width="1.6"/>
<circle cx="1634.9" cy="123.9" r="1.9" fill="#C77CFF"/>
<text x="1647.3" y="128.4" font-family='"Liberation Sans", sans-serif' font-size="16" font-weight="bold" text-anchor="start" fill="#000" >D</text>
<rect x="913.5" y="51.4" width="759.0" height="398.0" fill="none" stroke="#3d3d3d" stroke-width="1.15"/>
<line x1="1046.0" y1="449.4" x2="1046.0" y2="452.9" stroke="#333" stroke-width="1"/>
<text x="1046.0" y="465.3" font-family='"Liberation Sans", sans-serif' font-size="11.4" font-weight="normal" text-anchor="middle" fill="#4d4d4d" >-4</text>
<line x1="1234.2" y1="449.4" x2="1234.2" y2="452.9" stroke="#333" stroke-width="1"/>
<text x="1234.2" y="465.3" font-family='"Liberation Sans", sans-serif' font-size="11.4" font-weight="normal" text-anchor="middle" fill="#4d4d4d" >-2</text>
<line x1="1422.5" y1="449.4" x2="1422.5" y2="452.9" stroke="#333" stroke-width="1"/>
<text x="1422.5" y="465.3" font-family='"Liberation Sans", sans-serif' font-size="11.4" font-weight="normal" text-anchor="middle" fill="#4d4d4d" >0</text>
<line x1="1610.8" y1="449.4" x2="1610.8" y2="452.9" stroke="#333" stroke-width="1"/>
<text x="1610.8" y="465.3" font-family='"Liberation Sans", sans-serif' font-size="11.4" font-weight="normal" text-anchor="middle" fill="#4d4d4d" >2</text>
<line x1="910.0" y1="432.1" x2="913.5" y2="432.1" stroke="#333" stroke-width="1"/>
<text x="907.0" y="437.6" font-family='"Liberation Sans", sans-serif' font-size="11.4" font-weight="normal" text-anchor="end" fill="#4d4d4d" >-4</text>
<line x1="910.0" y1="325.4" x2="913.5" y2="325.4" stroke="#333" stroke-width="1"/>
<text x="907.0" y="330.9" font-family='"Liberation Sans", sans-serif' font-size="11.4" font-weight="normal" text-anchor="end" fill="#4d4d4d" >-2</text>
<line x1="910.0" y1="218.6" x2="913.5" y2="218.6" stroke="#333" stroke-width="1"/>
<text x="907.0" y="224.1" font-family='"Liberation Sans", sans-serif' font-size="11.4" font-weight="normal" text-anchor="end" fill="#4d4d4d" >0</text>
<line x1="910.0" y1="111.9" x2="913.5" y2="111.9" stroke="#333" stroke-width="1"/>
<text x="907.0" y="117.4" font-family='"Liberation Sans", sans-serif' font-size="11.4" font-weight="normal" text-anchor="end" fill="#4d4d4d" >2</text>
<text x="1292.0" y="479.9" font-family='"Liberation Sans", sans-serif' font-size="13.6" font-weight="normal" text-anchor="middle" fill="#222" >x</text>
<text transform="translate(892.8 250.4) rotate(-90)" font-family='"Liberation Sans", sans-serif' font-size="13.6" text-anchor="middle" fill="#222">y</text>
<rect x="50.9" y="549.8" width="759.5" height="397.2" fill="#fff"/>
<line x1="155.9" y1="549.8" x2="155.9" y2="947.0" stroke="#eeeeee" stroke-width="0.7"/>
<line x1="300.0" y1="549.8" x2="300.0" y2="947.0" stroke="#eeeeee" stroke-width="0.7"/>
<line x1="444.2" y1="549.8" x2="444.2" y2="947.0" stroke="#eeeeee" stroke-width="0.7"/>
<line x1="588.3" y1="549.8" x2="588.3" y2="947.0" stroke="#eeeeee" stroke-width="0.7"/>
<line x1="732.5" y1="549.8" x2="732.5" y2="947.0" stroke="#eeeeee" stroke-width="0.7"/>
<line x1="50.9" y1="919.4" x2="810.4" y2="919.4" stroke="#eeeeee" stroke-width="0.7"/>
<line x1="50.9" y1="852.4" x2="810.4" y2="852.4" stroke="#eeeeee" stroke-width="0.7"/>
<line x1="50.9" y1="785.5" x2="810.4" y2="785.5" stroke="#eeeeee" stroke-width="0.7"/>
<line x1="50.9" y1="718.5" x2="810.4" y2="718.5" stroke="#eeeeee" stroke-width="0.7"/>
<line x1="50.9" y1="651.5" x2="810.4" y2="651.5" stroke="#eeeeee" stroke-width="0.7"/>
<line x1="50.9" y1="584.5" x2="810.4" y2="584.5" stroke="#eeeeee" stroke-width="0.7"/>
<line x1="83.8" y1="549.8" x2="83.8" y2="947.0" stroke="#eaeaea" stroke-width="0.9"/>
<line x1="228.0" y1="549.8" x2="228.0" y2="947.0" stroke="#eaeaea" stroke-width="0.9"/>
<line x1="372.1" y1="549.8" x2="372.1" y2="947.0" stroke="#eaeaea" stroke-width="0.9"/>
<line x1="516.2" y1="549.8" x2="516.2" y2="947.0" stroke="#eaeaea" stroke-width="0.9"/>
<line x1="660.4" y1="549.8" x2="660.4" y2="947.0" stroke="#eaeaea" stroke-width="0.9"/>
<line x1="804.5" y1="549.8" x2="804.5" y2="947.0" stroke="#eaeaea" stroke-width="0.9"/>
<line x1="50.9" y1="885.9" x2="810.4" y2="885.9" stroke="#eaeaea" stroke-width="0.9"/>
<line x1="50.9" y1="818.9" x2="810.4" y2="818.9" stroke="#eaeaea" stroke-width="0.9"/>
<line x1="50.9" y1="752.0" x2="810.4" y2="752.0" stroke="#eaeaea" stroke-width="0.9"/>
<line x1="50.9" y1="685.0" x2="810.4" y2="685.0" stroke="#eaeaea" stroke-width="0.9"/>
<line x1="50.9" y1="618.0" x2="810.4" y2="618.0" stroke="#eaeaea" stroke-width="0.9"/>
<line x1="50.9" y1="551.1" x2="810.4" y2="551.1" stroke="#eaeaea" stroke-width="0.9"/>
<circle cx="176.3" cy="637.7" r="2.2" fill="#C77CFF"/>
<circle cx="182.3" cy="637.7" r="2.2" fill="#C77CFF"/>
<circle cx="215.6" cy="640.2" r="2.2" fill="#C77CFF"/>
<circle cx="220.9" cy="644.7" r="2.2" fill="#C77CFF"/>
<circle cx="256.8" cy="652.5" r="2.2" fill="#C77CFF"/>
<circle cx="236.5" cy="671.0" r="2.2" fill="#C77CFF"/>
<circle cx="185.6" cy="690.9" r="2.2" fill="#C77CFF"/>
<circle cx="246.2" cy="709.7" r="2.2" fill="#C77CFF"/>
<circle cx="224.4" cy="751.8" r="2.2" fill="#C77CFF"/>
<circle cx="166.5" cy="645.7" r="2.2" fill="#00BFC4"/>
<circle cx="392.9" cy="764.8" r="2.2" fill="#00BFC4"/>
<circle cx="255.8" cy="801.7" r="2.2" fill="#00BFC4"/>
<circle cx="220.2" cy="807.0" r="2.2" fill="#00BFC4"/>
<circle cx="319.0" cy="799.7" r="2.2" fill="#00BFC4"/>
<circle cx="353.8" cy="806.0" r="2.2" fill="#00BFC4"/>
<circle cx="320.2" cy="821.8" r="2.2" fill="#00BFC4"/>
<circle cx="266.5" cy="826.3" r="2.2" fill="#00BFC4"/>
<circle cx="263.8" cy="832.3" r="2.2" fill="#00BFC4"/>
<circle cx="282.3" cy="844.6" r="2.2" fill="#00BFC4"/>
<circle cx="326.0" cy="842.1" r="2.2" fill="#00BFC4"/>
<circle cx="323.5" cy="854.1" r="2.2" fill="#00BFC4"/>
<circle cx="259.5" cy="859.4" r="2.2" fill="#00BFC4"/>
<circle cx="268.3" cy="869.2" r="2.2" fill="#00BFC4"/>
<circle cx="358.6" cy="869.9" r="2.2" fill="#00BFC4"/>
<circle cx="359.3" cy="902.5" r="2.2" fill="#00BFC4"/>
<circle cx="456.6" cy="848.1" r="2.2" fill="#00BFC4"/>
<circle cx="193.6" cy="672.0" r="2.2" fill="#7CAE00"/>
<circle cx="332.2" cy="717.4" r="2.2" fill="#7CAE00"/>
<circle cx="363.6" cy="782.1" r="2.2" fill="#7CAE00"/>
<circle cx="327.0" cy="808.5" r="2.2" fill="#7CAE00"/>
<circle cx="608.6" cy="720.9" r="2.2" fill="#7CAE00"/>
<circle cx="566.2" cy="733.5" r="2.2" fill="#7CAE00"/>
<circle cx="556.2" cy="735.2" r="2.2" fill="#7CAE00"/>
<circle cx="492.0" cy="740.8" r="2.2" fill="#7CAE00"/>
<circle cx="583.0" cy="741.8" r="2.2" fill="#7CAE00"/>
<circle cx="498.7" cy="768.1" r="2.2" fill="#7CAE00"/>
<circle cx="465.4" cy="782.1" r="2.2" fill="#7CAE00"/>
<circle cx="506.5" cy="685.8" r="2.2" fill="#F8766D"/>
<circle cx="613.6" cy="691.1" r="2.2" fill="#F8766D"/>
<circle cx="675.0" cy="702.6" r="2.2" fill="#F8766D"/>
<circle cx="582.0" cy="705.9" r="2.2" fill="#F8766D"/>
<circle cx="489.5" cy="712.9" r="2.2" fill="#F8766D"/>
<circle cx="529.3" cy="718.2" r="2.2" fill="#F8766D"/>
<circle cx="634.6" cy="716.7" r="2.2" fill="#F8766D"/>
<circle cx="653.2" cy="719.2" r="2.2" fill="#F8766D"/>
<circle cx="573.2" cy="740.0" r="2.2" fill="#F8766D"/>
<path d="M768.1 713.8 L767.9 711.6 L767.1 709.5 L765.9 707.3 L764.2 705.2 L762.0 703.0 L759.3 700.9 L756.2 698.8 L752.5 696.7 L748.5 694.7 L744.0 692.7 L739.1 690.8 L733.7 688.9 L728.0 687.1 L721.9 685.3 L715.4 683.7 L708.6 682.0 L701.4 680.5 L693.9 679.1 L686.2 677.7 L678.2 676.4 L669.9 675.2 L661.4 674.1 L652.7 673.2 L643.8 672.3 L634.8 671.5 L625.6 670.8 L616.3 670.3 L607.0 669.8 L597.6 669.5 L588.2 669.2 L578.8 669.1 L569.4 669.1 L560.1 669.2 L550.8 669.4 L541.6 669.8 L532.6 670.2 L523.7 670.8 L515.0 671.5 L506.5 672.2 L498.3 673.1 L490.2 674.1 L482.5 675.2 L475.0 676.3 L467.8 677.6 L461.0 679.0 L454.5 680.4 L448.4 682.0 L442.7 683.6 L437.3 685.2 L432.4 687.0 L427.9 688.8 L423.9 690.7 L420.2 692.6 L417.1 694.6 L414.4 696.6 L412.2 698.7 L410.5 700.8 L409.3 702.9 L408.5 705.0 L408.3 707.2 L408.5 709.4 L409.3 711.5 L410.5 713.7 L412.2 715.8 L414.4 718.0 L417.1 720.1 L420.2 722.2 L423.9 724.3 L427.9 726.3 L432.4 728.3 L437.3 730.2 L442.7 732.1 L448.4 733.9 L454.5 735.7 L461.0 737.3 L467.8 739.0 L475.0 740.5 L482.5 741.9 L490.2 743.3 L498.2 744.6 L506.5 745.8 L515.0 746.9 L523.7 747.8 L532.6 748.7 L541.6 749.5 L550.8 750.2 L560.1 750.7 L569.4 751.2 L578.8 751.5 L588.2 751.8 L597.6 751.9 L607.0 751.9 L616.3 751.8 L625.6 751.6 L634.8 751.2 L643.8 750.8 L652.7 750.2 L661.4 749.5 L669.9 748.8 L678.2 747.9 L686.2 746.9 L693.9 745.8 L701.4 744.7 L708.6 743.4 L715.4 742.0 L721.9 740.6 L728.0 739.0 L733.7 737.4 L739.1 735.8 L744.0 734.0 L748.5 732.2 L752.5 730.3 L756.2 728.4 L759.3 726.4 L762.0 724.4 L764.2 722.3 L765.9 720.2 L767.1 718.1 L767.9 716.0Z" fill="#F8766D" fill-opacity="0.2" stroke="#F8766D" stroke-width="1.6"/>
<path d="M775.9 727.9 L775.5 723.8 L774.3 719.8 L772.4 715.9 L769.6 712.1 L766.1 708.4 L761.8 704.7 L756.8 701.3 L751.0 697.9 L744.5 694.7 L737.3 691.6 L729.4 688.7 L720.8 686.0 L711.7 683.4 L701.8 681.0 L691.5 678.8 L680.5 676.8 L669.0 675.0 L657.1 673.4 L644.6 672.0 L631.8 670.8 L618.5 669.9 L604.9 669.1 L590.9 668.6 L576.7 668.3 L562.2 668.2 L547.5 668.3 L532.7 668.7 L517.7 669.3 L502.7 670.1 L487.6 671.1 L472.5 672.3 L457.5 673.8 L442.5 675.4 L427.7 677.3 L413.0 679.3 L398.5 681.6 L384.3 684.0 L370.3 686.6 L356.7 689.4 L343.5 692.4 L330.6 695.5 L318.1 698.7 L306.2 702.1 L294.7 705.6 L283.7 709.3 L273.4 713.0 L263.5 716.8 L254.4 720.8 L245.8 724.8 L237.9 728.9 L230.7 733.0 L224.2 737.2 L218.4 741.4 L213.4 745.7 L209.1 749.9 L205.6 754.2 L202.8 758.4 L200.9 762.6 L199.7 766.8 L199.3 770.9 L199.7 775.0 L200.9 779.0 L202.8 782.9 L205.6 786.7 L209.1 790.4 L213.4 794.1 L218.4 797.5 L224.2 800.9 L230.7 804.1 L237.9 807.2 L245.8 810.1 L254.4 812.8 L263.5 815.4 L273.4 817.8 L283.7 820.0 L294.7 822.0 L306.2 823.8 L318.1 825.4 L330.6 826.8 L343.4 828.0 L356.7 828.9 L370.3 829.7 L384.3 830.2 L398.5 830.5 L413.0 830.6 L427.7 830.5 L442.5 830.1 L457.5 829.5 L472.5 828.7 L487.6 827.7 L502.7 826.5 L517.7 825.0 L532.7 823.4 L547.5 821.5 L562.2 819.5 L576.7 817.2 L590.9 814.8 L604.9 812.2 L618.5 809.4 L631.8 806.4 L644.6 803.3 L657.1 800.1 L669.0 796.7 L680.5 793.2 L691.5 789.5 L701.8 785.8 L711.7 782.0 L720.8 778.0 L729.4 774.0 L737.3 769.9 L744.5 765.8 L751.0 761.6 L756.8 757.4 L761.8 753.1 L766.1 748.9 L769.6 744.6 L772.4 740.4 L774.3 736.2 L775.5 732.0Z" fill="#7CAE00" fill-opacity="0.2" stroke="#7CAE00" stroke-width="1.6"/>
<path d="M445.0 854.6 L444.8 849.7 L444.2 844.7 L443.3 839.7 L441.9 834.7 L440.2 829.6 L438.1 824.6 L435.7 819.6 L432.9 814.6 L429.7 809.7 L426.2 804.8 L422.4 800.0 L418.2 795.3 L413.7 790.7 L409.0 786.3 L403.9 781.9 L398.6 777.7 L393.0 773.6 L387.2 769.7 L381.1 765.9 L374.9 762.4 L368.4 759.0 L361.8 755.9 L355.0 752.9 L348.1 750.2 L341.0 747.6 L333.9 745.4 L326.6 743.3 L319.4 741.5 L312.0 739.9 L304.7 738.6 L297.4 737.6 L290.0 736.8 L282.8 736.3 L275.5 736.0 L268.4 736.0 L261.3 736.3 L254.4 736.8 L247.6 737.6 L241.0 738.7 L234.6 740.0 L228.3 741.5 L222.2 743.3 L216.4 745.4 L210.8 747.7 L205.5 750.2 L200.4 752.9 L195.7 755.9 L191.2 759.1 L187.0 762.4 L183.2 766.0 L179.7 769.8 L176.5 773.7 L173.7 777.7 L171.3 782.0 L169.2 786.3 L167.5 790.8 L166.1 795.4 L165.2 800.1 L164.6 804.9 L164.4 809.8 L164.6 814.7 L165.2 819.7 L166.1 824.7 L167.5 829.7 L169.2 834.8 L171.3 839.8 L173.7 844.8 L176.5 849.8 L179.7 854.7 L183.2 859.6 L187.0 864.4 L191.2 869.1 L195.7 873.7 L200.4 878.1 L205.5 882.5 L210.8 886.7 L216.4 890.8 L222.2 894.7 L228.3 898.5 L234.5 902.0 L241.0 905.4 L247.6 908.5 L254.4 911.5 L261.3 914.2 L268.4 916.8 L275.5 919.0 L282.8 921.1 L290.0 922.9 L297.4 924.5 L304.7 925.8 L312.0 926.8 L319.4 927.6 L326.6 928.1 L333.9 928.4 L341.0 928.4 L348.1 928.1 L355.0 927.6 L361.8 926.8 L368.4 925.7 L374.9 924.4 L381.1 922.9 L387.2 921.1 L393.0 919.0 L398.6 916.7 L403.9 914.2 L409.0 911.5 L413.7 908.5 L418.2 905.3 L422.4 902.0 L426.2 898.4 L429.7 894.6 L432.9 890.7 L435.7 886.7 L438.1 882.4 L440.2 878.1 L441.9 873.6 L443.3 869.0 L444.2 864.3 L444.8 859.5Z" fill="#00BFC4" fill-opacity="0.2" stroke="#00BFC4" stroke-width="1.6"/>
<path d="M296.1 696.6 L296.0 691.7 L295.7 686.7 L295.1 681.6 L294.4 676.5 L293.4 671.4 L292.2 666.3 L290.8 661.1 L289.2 656.0 L287.4 650.9 L285.4 645.8 L283.2 640.7 L280.8 635.8 L278.3 630.9 L275.6 626.1 L272.7 621.4 L269.6 616.8 L266.4 612.3 L263.1 608.0 L259.7 603.9 L256.1 599.9 L252.4 596.1 L248.6 592.5 L244.8 589.0 L240.8 585.8 L236.8 582.8 L232.7 580.0 L228.6 577.4 L224.5 575.1 L220.3 573.0 L216.1 571.2 L211.9 569.6 L207.7 568.3 L203.6 567.3 L199.5 566.5 L195.4 566.0 L191.4 565.7 L187.4 565.7 L183.6 566.0 L179.8 566.6 L176.1 567.4 L172.5 568.5 L169.1 569.9 L165.8 571.5 L162.6 573.3 L159.5 575.5 L156.6 577.8 L153.9 580.4 L151.4 583.2 L149.0 586.3 L146.8 589.5 L144.8 593.0 L143.0 596.7 L141.4 600.5 L140.0 604.5 L138.8 608.7 L137.8 613.0 L137.1 617.5 L136.5 622.1 L136.2 626.8 L136.1 631.6 L136.2 636.5 L136.5 641.5 L137.1 646.6 L137.8 651.7 L138.8 656.8 L140.0 661.9 L141.4 667.1 L143.0 672.2 L144.8 677.3 L146.8 682.4 L149.0 687.5 L151.4 692.4 L153.9 697.3 L156.6 702.1 L159.5 706.8 L162.6 711.4 L165.8 715.9 L169.1 720.2 L172.5 724.3 L176.1 728.3 L179.8 732.1 L183.6 735.7 L187.4 739.2 L191.4 742.4 L195.4 745.4 L199.5 748.2 L203.6 750.8 L207.7 753.1 L211.9 755.2 L216.1 757.0 L220.3 758.6 L224.5 759.9 L228.6 760.9 L232.7 761.7 L236.8 762.2 L240.8 762.5 L244.8 762.5 L248.6 762.2 L252.4 761.6 L256.1 760.8 L259.7 759.7 L263.1 758.3 L266.4 756.7 L269.6 754.9 L272.7 752.7 L275.6 750.4 L278.3 747.8 L280.8 745.0 L283.2 741.9 L285.4 738.7 L287.4 735.2 L289.2 731.5 L290.8 727.7 L292.2 723.7 L293.4 719.5 L294.4 715.2 L295.1 710.7 L295.7 706.1 L296.0 701.4Z" fill="#C77CFF" fill-opacity="0.2" stroke="#C77CFF" stroke-width="1.6"/>
<path d="M371.6 751.5 L186.8 686.3 M189.8 685.9 L186.8 686.3 L188.9 688.5" fill="none" stroke="#3a3a3a" stroke-width="0.7"/>
<path d="M371.6 751.5 L415.2 691.5 M414.7 694.5 L415.2 691.5 L412.5 692.9" fill="none" stroke="#3a3a3a" stroke-width="0.7"/>
<path d="M371.6 751.5 L84.8 734.0 M87.6 732.8 L84.8 734.0 L87.4 735.5" fill="none" stroke="#3a3a3a" stroke-width="0.7"/>
<path d="M371.6 751.5 L150.0 748.0 M152.7 746.7 L150.0 748.0 L152.7 749.4" fill="none" stroke="#3a3a3a" stroke-width="0.7"/>
<path d="M371.6 751.5 L385.0 766.4 M382.2 765.3 L385.0 766.4 L384.2 763.5" fill="none" stroke="#3a3a3a" stroke-width="0.7"/>
<text x="134.9" y="686.1" font-family='"Liberation Sans", sans-serif' font-size="14.2" font-weight="bold" text-anchor="start" fill="#000" >Ferritin</text>
<text x="383.1" y="686.1" font-family='"Liberation Sans", sans-serif' font-size="14.2" font-weight="bold" text-anchor="start" fill="#000" >Procalcitonin</text>
<text x="53.9" y="738.2" font-family='"Liberation Sans", sans-serif' font-size="14.2" font-weight="bold" text-anchor="start" fill="#000" >LDH</text>
<text x="119.1" y="753.8" font-family='"Liberation Sans", sans-serif' font-size="14.2" font-weight="bold" text-anchor="start" fill="#000" >CRP</text>
<text x="381.4" y="783.8" font-family='"Liberation Sans", sans-serif' font-size="14.2" font-weight="bold" text-anchor="start" fill="#000" >D-dimer</text>
<text x="60.9" y="938.6" font-family='"Liberation Sans", sans-serif' font-size="14.2" font-weight="bold"><tspan font-style="italic">P</tspan>&lt;0.001</text>
<text x="798.1" y="920.1" font-family='"Liberation Sans", sans-serif' font-size="14.2" font-weight="bold" text-anchor="end" fill="#000" xml:space="preserve">CRP  0.043</text>
<text x="798.1" y="937.6" font-family='"Liberation Sans", sans-serif' font-size="14.2" font-weight="bold" text-anchor="end" fill="#000" xml:space="preserve">LDH  0.002</text>
<rect x="763.6" y="555.0" width="25.0" height="76.5" fill="#fff"/>
<rect x="769.30" y="560.70" width="13.8" height="13.8" fill="#F8766D" fill-opacity="0.2" stroke="#F8766D" stroke-width="1.6"/>
<circle cx="776.2" cy="567.6" r="1.9" fill="#F8766D"/>
<text x="787.5" y="572.1" font-family='"Liberation Sans", sans-serif' font-size="15.3" font-weight="bold" text-anchor="start" fill="#000" >A</text>
<rect x="769.30" y="577.75" width="13.8" height="13.8" fill="#7CAE00" fill-opacity="0.2" stroke="#7CAE00" stroke-width="1.6"/>
<circle cx="776.2" cy="584.6" r="1.9" fill="#7CAE00"/>
<text x="787.5" y="589.1" font-family='"Liberation Sans", sans-serif' font-size="15.3" font-weight="bold" text-anchor="start" fill="#000" >B</text>
<rect x="769.30" y="594.80" width="13.8" height="13.8" fill="#00BFC4" fill-opacity="0.2" stroke="#00BFC4" stroke-width="1.6"/>
<circle cx="776.2" cy="601.7" r="1.9" fill="#00BFC4"/>
<text x="787.5" y="606.2" font-family='"Liberation Sans", sans-serif' font-size="15.3" font-weight="bold" text-anchor="start" fill="#000" >C</text>
<rect x="769.30" y="611.85" width="13.8" height="13.8" fill="#C77CFF" fill-opacity="0.2" stroke="#C77CFF" stroke-width="1.6"/>
<circle cx="776.2" cy="618.8" r="1.9" fill="#C77CFF"/>
<text x="787.5" y="623.2" font-family='"Liberation Sans", sans-serif' font-size="15.3" font-weight="bold" text-anchor="start" fill="#000" >D</text>
<rect x="50.9" y="549.8" width="759.5" height="397.2" fill="none" stroke="#3d3d3d" stroke-width="1.15"/>
<line x1="83.8" y1="947.0" x2="83.8" y2="950.5" stroke="#333" stroke-width="1"/>
<text x="83.8" y="962.9" font-family='"Liberation Sans", sans-serif' font-size="11.4" font-weight="normal" text-anchor="middle" fill="#4d4d4d" >-2</text>
<line x1="228.0" y1="947.0" x2="228.0" y2="950.5" stroke="#333" stroke-width="1"/>
<text x="228.0" y="962.9" font-family='"Liberation Sans", sans-serif' font-size="11.4" font-weight="normal" text-anchor="middle" fill="#4d4d4d" >-1</text>
<line x1="372.1" y1="947.0" x2="372.1" y2="950.5" stroke="#333" stroke-width="1"/>
<text x="372.1" y="962.9" font-family='"Liberation Sans", sans-serif' font-size="11.4" font-weight="normal" text-anchor="middle" fill="#4d4d4d" >0</text>
<line x1="516.2" y1="947.0" x2="516.2" y2="950.5" stroke="#333" stroke-width="1"/>
<text x="516.2" y="962.9" font-family='"Liberation Sans", sans-serif' font-size="11.4" font-weight="normal" text-anchor="middle" fill="#4d4d4d" >1</text>
<line x1="660.4" y1="947.0" x2="660.4" y2="950.5" stroke="#333" stroke-width="1"/>
<text x="660.4" y="962.9" font-family='"Liberation Sans", sans-serif' font-size="11.4" font-weight="normal" text-anchor="middle" fill="#4d4d4d" >2</text>
<line x1="804.5" y1="947.0" x2="804.5" y2="950.5" stroke="#333" stroke-width="1"/>
<text x="804.5" y="962.9" font-family='"Liberation Sans", sans-serif' font-size="11.4" font-weight="normal" text-anchor="middle" fill="#4d4d4d" >3</text>
<line x1="47.4" y1="885.9" x2="50.9" y2="885.9" stroke="#333" stroke-width="1"/>
<text x="44.4" y="891.4" font-family='"Liberation Sans", sans-serif' font-size="11.4" font-weight="normal" text-anchor="end" fill="#4d4d4d" >-2</text>
<line x1="47.4" y1="818.9" x2="50.9" y2="818.9" stroke="#333" stroke-width="1"/>
<text x="44.4" y="824.4" font-family='"Liberation Sans", sans-serif' font-size="11.4" font-weight="normal" text-anchor="end" fill="#4d4d4d" >-1</text>
<line x1="47.4" y1="752.0" x2="50.9" y2="752.0" stroke="#333" stroke-width="1"/>
<text x="44.4" y="757.5" font-family='"Liberation Sans", sans-serif' font-size="11.4" font-weight="normal" text-anchor="end" fill="#4d4d4d" >0</text>
<line x1="47.4" y1="685.0" x2="50.9" y2="685.0" stroke="#333" stroke-width="1"/>
<text x="44.4" y="690.5" font-family='"Liberation Sans", sans-serif' font-size="11.4" font-weight="normal" text-anchor="end" fill="#4d4d4d" >1</text>
<line x1="47.4" y1="618.0" x2="50.9" y2="618.0" stroke="#333" stroke-width="1"/>
<text x="44.4" y="623.5" font-family='"Liberation Sans", sans-serif' font-size="11.4" font-weight="normal" text-anchor="end" fill="#4d4d4d" >2</text>
<line x1="47.4" y1="551.1" x2="50.9" y2="551.1" stroke="#333" stroke-width="1"/>
<text x="44.4" y="556.6" font-family='"Liberation Sans", sans-serif' font-size="11.4" font-weight="normal" text-anchor="end" fill="#4d4d4d" >3</text>
<text x="429.6" y="977.5" font-family='"Liberation Sans", sans-serif' font-size="13.6" font-weight="normal" text-anchor="middle" fill="#222" >x</text>
<text transform="translate(30.2 748.4) rotate(-90)" font-family='"Liberation Sans", sans-serif' font-size="13.6" text-anchor="middle" fill="#222">y</text>
<rect x="910.9" y="549.5" width="758.5" height="397.5" fill="#fff"/>
<line x1="958.7" y1="549.5" x2="958.7" y2="947.0" stroke="#eeeeee" stroke-width="0.7"/>
<line x1="1123.8" y1="549.5" x2="1123.8" y2="947.0" stroke="#eeeeee" stroke-width="0.7"/>
<line x1="1288.9" y1="549.5" x2="1288.9" y2="947.0" stroke="#eeeeee" stroke-width="0.7"/>
<line x1="1453.9" y1="549.5" x2="1453.9" y2="947.0" stroke="#eeeeee" stroke-width="0.7"/>
<line x1="1619.0" y1="549.5" x2="1619.0" y2="947.0" stroke="#eeeeee" stroke-width="0.7"/>
<line x1="910.9" y1="892.9" x2="1669.4" y2="892.9" stroke="#eeeeee" stroke-width="0.7"/>
<line x1="910.9" y1="819.0" x2="1669.4" y2="819.0" stroke="#eeeeee" stroke-width="0.7"/>
<line x1="910.9" y1="745.2" x2="1669.4" y2="745.2" stroke="#eeeeee" stroke-width="0.7"/>
<line x1="910.9" y1="671.3" x2="1669.4" y2="671.3" stroke="#eeeeee" stroke-width="0.7"/>
<line x1="910.9" y1="597.5" x2="1669.4" y2="597.5" stroke="#eeeeee" stroke-width="0.7"/>
<line x1="1041.2" y1="549.5" x2="1041.2" y2="947.0" stroke="#eaeaea" stroke-width="0.9"/>
<line x1="1206.3" y1="549.5" x2="1206.3" y2="947.0" stroke="#eaeaea" stroke-width="0.9"/>
<line x1="1371.4" y1="549.5" x2="1371.4" y2="947.0" stroke="#eaeaea" stroke-width="0.9"/>
<line x1="1536.5" y1="549.5" x2="1536.5" y2="947.0" stroke="#eaeaea" stroke-width="0.9"/>
<line x1="910.9" y1="929.8" x2="1669.4" y2="929.8" stroke="#eaeaea" stroke-width="0.9"/>
<line x1="910.9" y1="856.0" x2="1669.4" y2="856.0" stroke="#eaeaea" stroke-width="0.9"/>
<line x1="910.9" y1="782.1" x2="1669.4" y2="782.1" stroke="#eaeaea" stroke-width="0.9"/>
<line x1="910.9" y1="708.2" x2="1669.4" y2="708.2" stroke="#eaeaea" stroke-width="0.9"/>
<line x1="910.9" y1="634.4" x2="1669.4" y2="634.4" stroke="#eaeaea" stroke-width="0.9"/>
<line x1="910.9" y1="560.5" x2="1669.4" y2="560.5" stroke="#eaeaea" stroke-width="0.9"/>
<circle cx="1076.2" cy="827.0" r="2.2" fill="#F8766D"/>
<circle cx="984.4" cy="844.6" r="2.2" fill="#F8766D"/>
<circle cx="1343.3" cy="648.2" r="2.2" fill="#F8766D"/>
<circle cx="1258.5" cy="681.8" r="2.2" fill="#F8766D"/>
<circle cx="1389.2" cy="683.3" r="2.2" fill="#F8766D"/>
<circle cx="1306.7" cy="720.0" r="2.2" fill="#F8766D"/>
<circle cx="1326.0" cy="746.7" r="2.2" fill="#F8766D"/>
<circle cx="1351.6" cy="753.6" r="2.2" fill="#F8766D"/>
<circle cx="1387.3" cy="777.3" r="2.2" fill="#F8766D"/>
<circle cx="1372.6" cy="731.2" r="2.2" fill="#7CAE00"/>
<circle cx="1390.7" cy="729.0" r="2.2" fill="#7CAE00"/>
<circle cx="1316.6" cy="780.6" r="2.2" fill="#7CAE00"/>
<circle cx="1321.9" cy="770.1" r="2.2" fill="#7CAE00"/>
<circle cx="1332.8" cy="777.3" r="2.2" fill="#7CAE00"/>
<circle cx="1392.6" cy="747.6" r="2.2" fill="#7CAE00"/>
<circle cx="1415.4" cy="756.0" r="2.2" fill="#7CAE00"/>
<circle cx="1412.0" cy="760.7" r="2.2" fill="#7CAE00"/>
<circle cx="1416.4" cy="761.4" r="2.2" fill="#7CAE00"/>
<circle cx="1429.6" cy="775.4" r="2.2" fill="#7CAE00"/>
<circle cx="1436.8" cy="778.1" r="2.2" fill="#7CAE00"/>
<circle cx="1389.8" cy="777.3" r="2.2" fill="#7CAE00"/>
<circle cx="1414.8" cy="784.2" r="2.2" fill="#7CAE00"/>
<circle cx="1412.0" cy="789.6" r="2.2" fill="#7CAE00"/>
<circle cx="1421.7" cy="792.1" r="2.2" fill="#7CAE00"/>
<circle cx="1410.2" cy="794.6" r="2.2" fill="#7CAE00"/>
<circle cx="1457.9" cy="805.3" r="2.2" fill="#7CAE00"/>
<circle cx="1462.3" cy="805.0" r="2.2" fill="#7CAE00"/>
<circle cx="1470.0" cy="804.0" r="2.2" fill="#7CAE00"/>
<circle cx="1389.1" cy="814.7" r="2.2" fill="#7CAE00"/>
<circle cx="1408.3" cy="816.8" r="2.2" fill="#7CAE00"/>
<circle cx="1419.8" cy="824.5" r="2.2" fill="#7CAE00"/>
<circle cx="1241.2" cy="928.6" r="2.2" fill="#00BFC4"/>
<circle cx="1395.2" cy="670.0" r="2.2" fill="#00BFC4"/>
<circle cx="1395.2" cy="712.2" r="2.2" fill="#00BFC4"/>
<circle cx="1334.8" cy="806.2" r="2.2" fill="#00BFC4"/>
<circle cx="1369.2" cy="795.6" r="2.2" fill="#00BFC4"/>
<circle cx="1397.9" cy="757.8" r="2.2" fill="#00BFC4"/>
<circle cx="1392.6" cy="762.9" r="2.2" fill="#00BFC4"/>
<circle cx="1386.6" cy="767.6" r="2.2" fill="#00BFC4"/>
<circle cx="1401.4" cy="773.7" r="2.2" fill="#00BFC4"/>
<circle cx="1418.1" cy="775.4" r="2.2" fill="#00BFC4"/>
<circle cx="1409.5" cy="796.5" r="2.2" fill="#00BFC4"/>
<circle cx="1426.9" cy="795.6" r="2.2" fill="#00BFC4"/>
<circle cx="1426.9" cy="799.9" r="2.2" fill="#00BFC4"/>
<circle cx="1433.1" cy="799.6" r="2.2" fill="#00BFC4"/>
<circle cx="1441.5" cy="794.6" r="2.2" fill="#00BFC4"/>
<circle cx="1449.3" cy="793.6" r="2.2" fill="#00BFC4"/>
<circle cx="1434.0" cy="803.8" r="2.2" fill="#00BFC4"/>
<circle cx="1436.8" cy="806.2" r="2.2" fill="#00BFC4"/>
<circle cx="1440.9" cy="804.0" r="2.2" fill="#00BFC4"/>
<circle cx="1446.8" cy="802.8" r="2.2" fill="#00BFC4"/>
<circle cx="1449.7" cy="800.0" r="2.2" fill="#00BFC4"/>
<circle cx="1427.7" cy="808.7" r="2.2" fill="#00BFC4"/>
<circle cx="1392.6" cy="807.8" r="2.2" fill="#00BFC4"/>
<circle cx="1455.1" cy="805.3" r="2.2" fill="#00BFC4"/>
<circle cx="1465.6" cy="808.7" r="2.2" fill="#00BFC4"/>
<circle cx="1469.2" cy="814.7" r="2.2" fill="#00BFC4"/>
<circle cx="1412.9" cy="816.8" r="2.2" fill="#00BFC4"/>
<circle cx="1439.0" cy="818.2" r="2.2" fill="#00BFC4"/>
<circle cx="1157.2" cy="741.0" r="2.2" fill="#C77CFF"/>
<circle cx="1186.8" cy="771.9" r="2.2" fill="#C77CFF"/>
<circle cx="1043.1" cy="816.5" r="2.2" fill="#C77CFF"/>
<circle cx="1264.8" cy="780.6" r="2.2" fill="#C77CFF"/>
<circle cx="1287.4" cy="778.1" r="2.2" fill="#C77CFF"/>
<circle cx="1389.1" cy="798.0" r="2.2" fill="#C77CFF"/>
<circle cx="1419.8" cy="796.5" r="2.2" fill="#C77CFF"/>
<path d="M1635.5 622.9 L1635.0 616.5 L1633.6 610.5 L1631.2 604.8 L1627.9 599.4 L1623.7 594.5 L1618.6 589.9 L1612.5 585.7 L1605.6 581.9 L1597.8 578.6 L1589.2 575.7 L1579.7 573.2 L1569.5 571.1 L1558.4 569.5 L1546.7 568.4 L1534.2 567.7 L1521.1 567.5 L1507.3 567.7 L1493.0 568.4 L1478.0 569.6 L1462.6 571.2 L1446.7 573.3 L1430.3 575.8 L1413.6 578.7 L1396.6 582.1 L1379.2 585.9 L1361.6 590.1 L1343.8 594.7 L1325.8 599.7 L1307.8 605.0 L1289.7 610.7 L1271.6 616.8 L1253.6 623.2 L1235.6 629.9 L1217.8 636.8 L1200.2 644.1 L1182.8 651.6 L1165.8 659.3 L1149.1 667.2 L1132.7 675.3 L1116.8 683.6 L1101.4 692.1 L1086.4 700.6 L1072.1 709.2 L1058.3 718.0 L1045.2 726.7 L1032.7 735.5 L1021.0 744.3 L1009.9 753.0 L999.7 761.7 L990.2 770.4 L981.6 778.9 L973.8 787.3 L966.9 795.6 L960.8 803.7 L955.7 811.7 L951.5 819.4 L948.2 826.9 L945.8 834.1 L944.4 841.1 L943.9 847.7 L944.4 854.1 L945.8 860.1 L948.2 865.8 L951.5 871.2 L955.7 876.1 L960.8 880.7 L966.9 884.9 L973.8 888.7 L981.6 892.0 L990.2 894.9 L999.7 897.4 L1009.9 899.5 L1021.0 901.1 L1032.7 902.2 L1045.2 902.9 L1058.3 903.1 L1072.1 902.9 L1086.4 902.2 L1101.4 901.0 L1116.8 899.4 L1132.7 897.3 L1149.1 894.8 L1165.8 891.9 L1182.8 888.5 L1200.2 884.7 L1217.8 880.5 L1235.6 875.9 L1253.6 870.9 L1271.6 865.6 L1289.7 859.9 L1307.8 853.8 L1325.8 847.4 L1343.8 840.7 L1361.6 833.8 L1379.2 826.5 L1396.6 819.0 L1413.6 811.3 L1430.3 803.4 L1446.7 795.3 L1462.6 787.0 L1478.0 778.5 L1493.0 770.0 L1507.3 761.4 L1521.1 752.6 L1534.2 743.9 L1546.7 735.1 L1558.4 726.3 L1569.5 717.6 L1579.7 708.9 L1589.2 700.2 L1597.8 691.7 L1605.6 683.3 L1612.5 675.0 L1618.6 666.9 L1623.7 658.9 L1627.9 651.2 L1631.2 643.7 L1633.6 636.5 L1635.0 629.5Z" fill="#F8766D" fill-opacity="0.2" stroke="#F8766D" stroke-width="1.6"/>
<path d="M1503.7 807.2 L1503.6 804.2 L1503.2 801.1 L1502.6 798.0 L1501.7 794.8 L1500.6 791.6 L1499.3 788.4 L1497.7 785.1 L1495.9 781.8 L1493.8 778.6 L1491.6 775.3 L1489.1 772.1 L1486.4 768.9 L1483.5 765.7 L1480.4 762.6 L1477.2 759.5 L1473.7 756.5 L1470.1 753.6 L1466.4 750.8 L1462.4 748.0 L1458.4 745.3 L1454.2 742.7 L1450.0 740.3 L1445.6 737.9 L1441.1 735.7 L1436.5 733.6 L1431.9 731.6 L1427.3 729.8 L1422.6 728.1 L1417.8 726.6 L1413.1 725.2 L1408.4 724.0 L1403.6 722.9 L1398.9 722.0 L1394.3 721.3 L1389.7 720.7 L1385.1 720.3 L1380.6 720.1 L1376.2 720.0 L1372.0 720.1 L1367.8 720.4 L1363.8 720.8 L1359.8 721.5 L1356.1 722.2 L1352.5 723.2 L1349.0 724.3 L1345.8 725.6 L1342.7 727.0 L1339.8 728.6 L1337.1 730.3 L1334.6 732.2 L1332.4 734.2 L1330.3 736.3 L1328.5 738.6 L1326.9 741.0 L1325.6 743.5 L1324.5 746.1 L1323.6 748.8 L1323.0 751.5 L1322.6 754.4 L1322.5 757.4 L1322.6 760.4 L1323.0 763.5 L1323.6 766.6 L1324.5 769.8 L1325.6 773.0 L1326.9 776.2 L1328.5 779.5 L1330.3 782.8 L1332.4 786.0 L1334.6 789.3 L1337.1 792.5 L1339.8 795.7 L1342.7 798.9 L1345.8 802.0 L1349.0 805.1 L1352.5 808.1 L1356.1 811.0 L1359.8 813.8 L1363.8 816.6 L1367.8 819.3 L1372.0 821.9 L1376.2 824.3 L1380.6 826.7 L1385.1 828.9 L1389.7 831.0 L1394.3 833.0 L1398.9 834.8 L1403.6 836.5 L1408.4 838.0 L1413.1 839.4 L1417.8 840.6 L1422.6 841.7 L1427.3 842.6 L1431.9 843.3 L1436.5 843.9 L1441.1 844.3 L1445.6 844.5 L1450.0 844.6 L1454.2 844.5 L1458.4 844.2 L1462.4 843.8 L1466.4 843.1 L1470.1 842.4 L1473.7 841.4 L1477.2 840.3 L1480.4 839.0 L1483.5 837.6 L1486.4 836.0 L1489.1 834.3 L1491.6 832.4 L1493.8 830.4 L1495.9 828.3 L1497.7 826.0 L1499.3 823.6 L1500.6 821.1 L1501.7 818.5 L1502.6 815.8 L1503.2 813.1 L1503.6 810.2Z" fill="#7CAE00" fill-opacity="0.2" stroke="#7CAE00" stroke-width="1.6"/>
<path d="M1497.2 810.9 L1497.1 808.3 L1496.8 805.7 L1496.3 803.0 L1495.6 800.3 L1494.7 797.6 L1493.7 794.9 L1492.4 792.2 L1490.9 789.5 L1489.3 786.8 L1487.5 784.2 L1485.5 781.5 L1483.4 779.0 L1481.1 776.4 L1478.6 773.9 L1476.0 771.5 L1473.3 769.1 L1470.4 766.8 L1467.4 764.6 L1464.3 762.5 L1461.1 760.4 L1457.7 758.5 L1454.3 756.7 L1450.8 754.9 L1447.2 753.3 L1443.6 751.8 L1439.9 750.4 L1436.2 749.1 L1432.5 748.0 L1428.7 747.0 L1424.9 746.1 L1421.1 745.3 L1417.3 744.7 L1413.6 744.3 L1409.9 743.9 L1406.2 743.7 L1402.6 743.7 L1399.0 743.8 L1395.5 744.0 L1392.1 744.4 L1388.8 744.9 L1385.5 745.6 L1382.4 746.4 L1379.4 747.3 L1376.5 748.4 L1373.8 749.6 L1371.2 750.9 L1368.7 752.3 L1366.4 753.9 L1364.3 755.5 L1362.3 757.3 L1360.5 759.2 L1358.9 761.2 L1357.4 763.2 L1356.1 765.4 L1355.1 767.7 L1354.2 770.0 L1353.5 772.4 L1353.0 774.8 L1352.7 777.3 L1352.6 779.9 L1352.7 782.5 L1353.0 785.1 L1353.5 787.8 L1354.2 790.5 L1355.1 793.2 L1356.1 795.9 L1357.4 798.6 L1358.9 801.3 L1360.5 804.0 L1362.3 806.6 L1364.3 809.3 L1366.4 811.8 L1368.7 814.4 L1371.2 816.9 L1373.8 819.3 L1376.5 821.7 L1379.4 824.0 L1382.4 826.2 L1385.5 828.3 L1388.8 830.4 L1392.1 832.3 L1395.5 834.1 L1399.0 835.9 L1402.6 837.5 L1406.2 839.0 L1409.9 840.4 L1413.6 841.7 L1417.3 842.8 L1421.1 843.8 L1424.9 844.7 L1428.7 845.5 L1432.5 846.1 L1436.2 846.5 L1439.9 846.9 L1443.6 847.1 L1447.2 847.1 L1450.8 847.0 L1454.3 846.8 L1457.7 846.4 L1461.1 845.9 L1464.3 845.2 L1467.4 844.4 L1470.4 843.5 L1473.3 842.4 L1476.0 841.2 L1478.6 839.9 L1481.1 838.5 L1483.4 836.9 L1485.5 835.3 L1487.5 833.5 L1489.3 831.6 L1490.9 829.6 L1492.4 827.6 L1493.7 825.4 L1494.7 823.1 L1495.6 820.8 L1496.3 818.4 L1496.8 816.0 L1497.1 813.5Z" fill="#00BFC4" fill-opacity="0.2" stroke="#00BFC4" stroke-width="1.6"/>
<path d="M1598.0 808.1 L1597.6 805.5 L1596.2 802.9 L1594.0 800.2 L1591.0 797.4 L1587.1 794.6 L1582.3 791.8 L1576.7 788.9 L1570.2 786.0 L1563.0 783.1 L1555.0 780.2 L1546.2 777.3 L1536.7 774.4 L1526.4 771.5 L1515.5 768.6 L1504.0 765.8 L1491.8 763.0 L1479.0 760.3 L1465.6 757.6 L1451.8 755.0 L1437.5 752.4 L1422.7 750.0 L1407.5 747.6 L1392.0 745.3 L1376.1 743.1 L1360.0 741.0 L1343.7 739.1 L1327.1 737.2 L1310.5 735.5 L1293.7 733.8 L1276.9 732.4 L1260.1 731.0 L1243.3 729.8 L1226.7 728.7 L1210.1 727.8 L1193.8 727.0 L1177.7 726.4 L1161.8 725.9 L1146.3 725.5 L1131.1 725.3 L1116.4 725.3 L1102.0 725.4 L1088.2 725.7 L1074.8 726.1 L1062.0 726.7 L1049.8 727.4 L1038.3 728.3 L1027.4 729.3 L1017.1 730.5 L1007.6 731.8 L998.8 733.2 L990.8 734.7 L983.6 736.4 L977.1 738.2 L971.5 740.2 L966.7 742.2 L962.8 744.4 L959.8 746.6 L957.6 748.9 L956.2 751.4 L955.8 753.9 L956.2 756.5 L957.6 759.1 L959.8 761.8 L962.8 764.6 L966.7 767.4 L971.5 770.2 L977.1 773.1 L983.6 776.0 L990.8 778.9 L998.8 781.8 L1007.6 784.7 L1017.1 787.6 L1027.4 790.5 L1038.3 793.4 L1049.8 796.2 L1062.0 799.0 L1074.8 801.7 L1088.2 804.4 L1102.0 807.0 L1116.3 809.6 L1131.1 812.0 L1146.3 814.4 L1161.8 816.7 L1177.7 818.9 L1193.8 821.0 L1210.1 822.9 L1226.7 824.8 L1243.3 826.5 L1260.1 828.2 L1276.9 829.6 L1293.7 831.0 L1310.5 832.2 L1327.1 833.3 L1343.7 834.2 L1360.0 835.0 L1376.1 835.6 L1392.0 836.1 L1407.5 836.5 L1422.7 836.7 L1437.5 836.7 L1451.8 836.6 L1465.6 836.3 L1479.0 835.9 L1491.8 835.3 L1504.0 834.6 L1515.5 833.7 L1526.4 832.7 L1536.7 831.5 L1546.2 830.2 L1555.0 828.8 L1563.0 827.3 L1570.2 825.6 L1576.7 823.8 L1582.3 821.8 L1587.1 819.8 L1591.0 817.6 L1594.0 815.4 L1596.2 813.1 L1597.6 810.6Z" fill="#C77CFF" fill-opacity="0.2" stroke="#C77CFF" stroke-width="1.6"/>
<path d="M1370.8 782.3 L1252.5 759.2 M1255.6 758.3 L1252.5 759.2 L1255.0 761.2" fill="none" stroke="#3a3a3a" stroke-width="0.7"/>
<path d="M1370.8 782.3 L1264.1 786.7 M1266.9 785.1 L1264.1 786.7 L1267.0 788.0" fill="none" stroke="#3a3a3a" stroke-width="0.7"/>
<path d="M1370.8 782.3 L1185.7 789.3 M1188.5 787.7 L1185.7 789.3 L1188.6 790.6" fill="none" stroke="#3a3a3a" stroke-width="0.7"/>
<path d="M1370.8 782.3 L1331.9 789.6 M1334.4 787.6 L1331.9 789.6 L1335.0 790.5" fill="none" stroke="#3a3a3a" stroke-width="0.7"/>
<path d="M1370.8 782.3 L1344.5 795.2 M1346.4 792.6 L1344.5 795.2 L1347.7 795.2" fill="none" stroke="#3a3a3a" stroke-width="0.7"/>
<text x="1216.4" y="758.8" font-family='"Liberation Sans", sans-serif' font-size="16.6" font-weight="bold" text-anchor="start" fill="#000" >CRP</text>
<text x="1205.8" y="796.5" font-family='"Liberation Sans", sans-serif' font-size="16.6" font-weight="bold" text-anchor="start" fill="#000" >Ferritin</text>
<text x="1069.4" y="793.2" font-family='"Liberation Sans", sans-serif' font-size="16.6" font-weight="bold" text-anchor="start" fill="#000" >Procalcitonin</text>
<text x="1274.8" y="803.7" font-family='"Liberation Sans", sans-serif' font-size="16.6" font-weight="bold" text-anchor="start" fill="#000" >D-dimer</text>
<text x="1342.6" y="810.9" font-family='"Liberation Sans", sans-serif' font-size="16.6" font-weight="bold" text-anchor="start" fill="#000" >LDH</text>
<text x="920.7" y="940.6" font-family='"Liberation Sans", sans-serif' font-size="16.6" font-weight="bold"><tspan font-style="italic">P</tspan>=0.004</text>
<text x="1660.7" y="879.2" font-family='"Liberation Sans", sans-serif' font-size="16.6" font-weight="bold" text-anchor="end" fill="#000" xml:space="preserve">CRP  0.004</text>
<text x="1660.7" y="899.8" font-family='"Liberation Sans", sans-serif' font-size="16.6" font-weight="bold" text-anchor="end" fill="#000" xml:space="preserve">Procalcitonin  0.018</text>
<text x="1660.7" y="920.4" font-family='"Liberation Sans", sans-serif' font-size="16.6" font-weight="bold" text-anchor="end" fill="#000" xml:space="preserve">D-dimer  0.030</text>
<text x="1660.7" y="941.0" font-family='"Liberation Sans", sans-serif' font-size="16.6" font-weight="bold" text-anchor="end" fill="#000" xml:space="preserve">LDH   0.037</text>
<rect x="914.8" y="555.0" width="25.2" height="76.5" fill="#fff"/>
<rect x="920.30" y="560.70" width="13.8" height="13.8" fill="#F8766D" fill-opacity="0.2" stroke="#F8766D" stroke-width="1.6"/>
<circle cx="927.2" cy="567.6" r="1.9" fill="#F8766D"/>
<text x="938.7" y="572.1" font-family='"Liberation Sans", sans-serif' font-size="15.3" font-weight="bold" text-anchor="start" fill="#000" >A</text>
<rect x="920.30" y="577.75" width="13.8" height="13.8" fill="#7CAE00" fill-opacity="0.2" stroke="#7CAE00" stroke-width="1.6"/>
<circle cx="927.2" cy="584.6" r="1.9" fill="#7CAE00"/>
<text x="938.7" y="589.1" font-family='"Liberation Sans", sans-serif' font-size="15.3" font-weight="bold" text-anchor="start" fill="#000" >B</text>
<rect x="920.30" y="594.80" width="13.8" height="13.8" fill="#00BFC4" fill-opacity="0.2" stroke="#00BFC4" stroke-width="1.6"/>
<circle cx="927.2" cy="601.7" r="1.9" fill="#00BFC4"/>
<text x="938.7" y="606.2" font-family='"Liberation Sans", sans-serif' font-size="15.3" font-weight="bold" text-anchor="start" fill="#000" >C</text>
<rect x="920.30" y="611.85" width="13.8" height="13.8" fill="#C77CFF" fill-opacity="0.2" stroke="#C77CFF" stroke-width="1.6"/>
<circle cx="927.2" cy="618.8" r="1.9" fill="#C77CFF"/>
<text x="938.7" y="623.2" font-family='"Liberation Sans", sans-serif' font-size="15.3" font-weight="bold" text-anchor="start" fill="#000" >D</text>
<rect x="910.9" y="549.5" width="758.5" height="397.5" fill="none" stroke="#3d3d3d" stroke-width="1.15"/>
<line x1="1041.2" y1="947.0" x2="1041.2" y2="950.5" stroke="#333" stroke-width="1"/>
<text x="1041.2" y="962.9" font-family='"Liberation Sans", sans-serif' font-size="11.4" font-weight="normal" text-anchor="middle" fill="#4d4d4d" >4</text>
<line x1="1206.3" y1="947.0" x2="1206.3" y2="950.5" stroke="#333" stroke-width="1"/>
<text x="1206.3" y="962.9" font-family='"Liberation Sans", sans-serif' font-size="11.4" font-weight="normal" text-anchor="middle" fill="#4d4d4d" >2</text>
<line x1="1371.4" y1="947.0" x2="1371.4" y2="950.5" stroke="#333" stroke-width="1"/>
<text x="1371.4" y="962.9" font-family='"Liberation Sans", sans-serif' font-size="11.4" font-weight="normal" text-anchor="middle" fill="#4d4d4d" >0</text>
<line x1="1536.5" y1="947.0" x2="1536.5" y2="950.5" stroke="#333" stroke-width="1"/>
<text x="1536.5" y="962.9" font-family='"Liberation Sans", sans-serif' font-size="11.4" font-weight="normal" text-anchor="middle" fill="#4d4d4d" >-2</text>
<line x1="907.4" y1="929.8" x2="910.9" y2="929.8" stroke="#333" stroke-width="1"/>
<text x="904.4" y="935.3" font-family='"Liberation Sans", sans-serif' font-size="11.4" font-weight="normal" text-anchor="end" fill="#4d4d4d" >-4</text>
<line x1="907.4" y1="856.0" x2="910.9" y2="856.0" stroke="#333" stroke-width="1"/>
<text x="904.4" y="861.5" font-family='"Liberation Sans", sans-serif' font-size="11.4" font-weight="normal" text-anchor="end" fill="#4d4d4d" >-2</text>
<line x1="907.4" y1="782.1" x2="910.9" y2="782.1" stroke="#333" stroke-width="1"/>
<text x="904.4" y="787.6" font-family='"Liberation Sans", sans-serif' font-size="11.4" font-weight="normal" text-anchor="end" fill="#4d4d4d" >0</text>
<line x1="907.4" y1="708.2" x2="910.9" y2="708.2" stroke="#333" stroke-width="1"/>
<text x="904.4" y="713.7" font-family='"Liberation Sans", sans-serif' font-size="11.4" font-weight="normal" text-anchor="end" fill="#4d4d4d" >2</text>
<line x1="907.4" y1="634.4" x2="910.9" y2="634.4" stroke="#333" stroke-width="1"/>
<text x="904.4" y="639.9" font-family='"Liberation Sans", sans-serif' font-size="11.4" font-weight="normal" text-anchor="end" fill="#4d4d4d" >4</text>
<line x1="907.4" y1="560.5" x2="910.9" y2="560.5" stroke="#333" stroke-width="1"/>
<text x="904.4" y="566.0" font-family='"Liberation Sans", sans-serif' font-size="11.4" font-weight="normal" text-anchor="end" fill="#4d4d4d" >6</text>
<text x="1289.2" y="977.5" font-family='"Liberation Sans", sans-serif' font-size="13.6" font-weight="normal" text-anchor="middle" fill="#222" >x</text>
<text transform="translate(890.2 748.2) rotate(-90)" font-family='"Liberation Sans", sans-serif' font-size="13.6" text-anchor="middle" fill="#222">y</text>
</svg>
</body></html>
